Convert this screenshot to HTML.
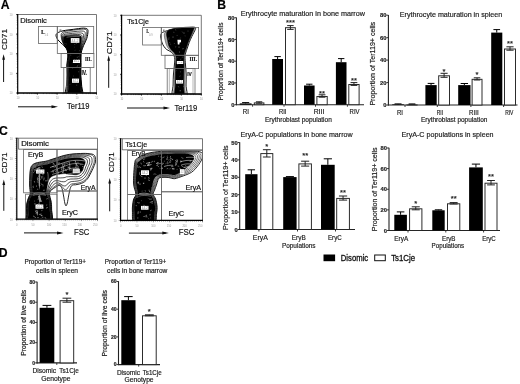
<!DOCTYPE html><html><head><meta charset="utf-8"><style>html,body{margin:0;padding:0;background:#fff;}svg{display:block;}</style></head><body>
<svg width="520" height="384" viewBox="0 0 520 384">
<rect width="520" height="384" fill="#fff"/>
<text x="0.70" y="8.50" font-size="12.2" font-family="'Liberation Sans', Arial, sans-serif" font-weight="bold" fill="#000" stroke="#000" stroke-width="0.18" text-anchor="start">A</text>
<text x="217.30" y="8.80" font-size="12.2" font-family="'Liberation Sans', Arial, sans-serif" font-weight="bold" fill="#000" stroke="#000" stroke-width="0.18" text-anchor="start">B</text>
<text x="-0.90" y="134.90" font-size="12.2" font-family="'Liberation Sans', Arial, sans-serif" font-weight="bold" fill="#000" stroke="#000" stroke-width="0.18" text-anchor="start">C</text>
<text x="-1.30" y="256.70" font-size="12.2" font-family="'Liberation Sans', Arial, sans-serif" font-weight="bold" fill="#000" stroke="#000" stroke-width="0.18" text-anchor="start">D</text>
<defs><clipPath id="cA1"><rect x="17.7" y="14.5" width="78.8" height="78.5"/></clipPath></defs>
<line x1="17.70" y1="14.50" x2="96.50" y2="14.50" stroke="#555" stroke-width="0.8"/>
<line x1="96.50" y1="14.50" x2="96.50" y2="93.00" stroke="#555" stroke-width="0.8"/>
<line x1="16.20" y1="93.00" x2="17.70" y2="93.00" stroke="#222" stroke-width="0.9"/>
<line x1="16.20" y1="73.38" x2="17.70" y2="73.38" stroke="#222" stroke-width="0.9"/>
<line x1="16.20" y1="53.75" x2="17.70" y2="53.75" stroke="#222" stroke-width="0.9"/>
<line x1="16.20" y1="34.12" x2="17.70" y2="34.12" stroke="#222" stroke-width="0.9"/>
<line x1="16.20" y1="14.50" x2="17.70" y2="14.50" stroke="#222" stroke-width="0.9"/>
<line x1="17.70" y1="93.00" x2="17.70" y2="94.60" stroke="#222" stroke-width="0.9"/>
<line x1="37.40" y1="93.00" x2="37.40" y2="94.60" stroke="#222" stroke-width="0.9"/>
<line x1="57.10" y1="93.00" x2="57.10" y2="94.60" stroke="#222" stroke-width="0.9"/>
<line x1="76.80" y1="93.00" x2="76.80" y2="94.60" stroke="#222" stroke-width="0.9"/>
<line x1="96.50" y1="93.00" x2="96.50" y2="94.60" stroke="#222" stroke-width="0.9"/>
<line x1="16.70" y1="93.00" x2="17.70" y2="93.00" stroke="#444" stroke-width="0.6"/>
<line x1="16.70" y1="87.09" x2="17.70" y2="87.09" stroke="#444" stroke-width="0.6"/>
<line x1="16.70" y1="83.64" x2="17.70" y2="83.64" stroke="#444" stroke-width="0.6"/>
<line x1="16.70" y1="81.18" x2="17.70" y2="81.18" stroke="#444" stroke-width="0.6"/>
<line x1="16.70" y1="79.28" x2="17.70" y2="79.28" stroke="#444" stroke-width="0.6"/>
<line x1="16.70" y1="77.73" x2="17.70" y2="77.73" stroke="#444" stroke-width="0.6"/>
<line x1="16.70" y1="76.41" x2="17.70" y2="76.41" stroke="#444" stroke-width="0.6"/>
<line x1="16.70" y1="75.28" x2="17.70" y2="75.28" stroke="#444" stroke-width="0.6"/>
<line x1="16.70" y1="74.27" x2="17.70" y2="74.27" stroke="#444" stroke-width="0.6"/>
<line x1="16.70" y1="73.38" x2="17.70" y2="73.38" stroke="#444" stroke-width="0.6"/>
<line x1="16.70" y1="67.47" x2="17.70" y2="67.47" stroke="#444" stroke-width="0.6"/>
<line x1="16.70" y1="64.01" x2="17.70" y2="64.01" stroke="#444" stroke-width="0.6"/>
<line x1="16.70" y1="61.56" x2="17.70" y2="61.56" stroke="#444" stroke-width="0.6"/>
<line x1="16.70" y1="59.66" x2="17.70" y2="59.66" stroke="#444" stroke-width="0.6"/>
<line x1="16.70" y1="58.10" x2="17.70" y2="58.10" stroke="#444" stroke-width="0.6"/>
<line x1="16.70" y1="56.79" x2="17.70" y2="56.79" stroke="#444" stroke-width="0.6"/>
<line x1="16.70" y1="55.65" x2="17.70" y2="55.65" stroke="#444" stroke-width="0.6"/>
<line x1="16.70" y1="54.65" x2="17.70" y2="54.65" stroke="#444" stroke-width="0.6"/>
<line x1="16.70" y1="53.75" x2="17.70" y2="53.75" stroke="#444" stroke-width="0.6"/>
<line x1="16.70" y1="47.84" x2="17.70" y2="47.84" stroke="#444" stroke-width="0.6"/>
<line x1="16.70" y1="44.39" x2="17.70" y2="44.39" stroke="#444" stroke-width="0.6"/>
<line x1="16.70" y1="41.93" x2="17.70" y2="41.93" stroke="#444" stroke-width="0.6"/>
<line x1="16.70" y1="40.03" x2="17.70" y2="40.03" stroke="#444" stroke-width="0.6"/>
<line x1="16.70" y1="38.48" x2="17.70" y2="38.48" stroke="#444" stroke-width="0.6"/>
<line x1="16.70" y1="37.16" x2="17.70" y2="37.16" stroke="#444" stroke-width="0.6"/>
<line x1="16.70" y1="36.03" x2="17.70" y2="36.03" stroke="#444" stroke-width="0.6"/>
<line x1="16.70" y1="35.02" x2="17.70" y2="35.02" stroke="#444" stroke-width="0.6"/>
<line x1="16.70" y1="34.12" x2="17.70" y2="34.12" stroke="#444" stroke-width="0.6"/>
<line x1="16.70" y1="28.22" x2="17.70" y2="28.22" stroke="#444" stroke-width="0.6"/>
<line x1="16.70" y1="24.76" x2="17.70" y2="24.76" stroke="#444" stroke-width="0.6"/>
<line x1="16.70" y1="22.31" x2="17.70" y2="22.31" stroke="#444" stroke-width="0.6"/>
<line x1="16.70" y1="20.41" x2="17.70" y2="20.41" stroke="#444" stroke-width="0.6"/>
<line x1="16.70" y1="18.85" x2="17.70" y2="18.85" stroke="#444" stroke-width="0.6"/>
<line x1="16.70" y1="17.54" x2="17.70" y2="17.54" stroke="#444" stroke-width="0.6"/>
<line x1="16.70" y1="16.40" x2="17.70" y2="16.40" stroke="#444" stroke-width="0.6"/>
<line x1="16.70" y1="15.40" x2="17.70" y2="15.40" stroke="#444" stroke-width="0.6"/>
<line x1="16.70" y1="14.50" x2="17.70" y2="14.50" stroke="#444" stroke-width="0.6"/>
<line x1="17.70" y1="93.00" x2="17.70" y2="94.10" stroke="#444" stroke-width="0.6"/>
<line x1="23.63" y1="93.00" x2="23.63" y2="94.10" stroke="#444" stroke-width="0.6"/>
<line x1="27.10" y1="93.00" x2="27.10" y2="94.10" stroke="#444" stroke-width="0.6"/>
<line x1="29.56" y1="93.00" x2="29.56" y2="94.10" stroke="#444" stroke-width="0.6"/>
<line x1="31.47" y1="93.00" x2="31.47" y2="94.10" stroke="#444" stroke-width="0.6"/>
<line x1="33.03" y1="93.00" x2="33.03" y2="94.10" stroke="#444" stroke-width="0.6"/>
<line x1="34.35" y1="93.00" x2="34.35" y2="94.10" stroke="#444" stroke-width="0.6"/>
<line x1="35.49" y1="93.00" x2="35.49" y2="94.10" stroke="#444" stroke-width="0.6"/>
<line x1="36.50" y1="93.00" x2="36.50" y2="94.10" stroke="#444" stroke-width="0.6"/>
<line x1="37.40" y1="93.00" x2="37.40" y2="94.10" stroke="#444" stroke-width="0.6"/>
<line x1="43.33" y1="93.00" x2="43.33" y2="94.10" stroke="#444" stroke-width="0.6"/>
<line x1="46.80" y1="93.00" x2="46.80" y2="94.10" stroke="#444" stroke-width="0.6"/>
<line x1="49.26" y1="93.00" x2="49.26" y2="94.10" stroke="#444" stroke-width="0.6"/>
<line x1="51.17" y1="93.00" x2="51.17" y2="94.10" stroke="#444" stroke-width="0.6"/>
<line x1="52.73" y1="93.00" x2="52.73" y2="94.10" stroke="#444" stroke-width="0.6"/>
<line x1="54.05" y1="93.00" x2="54.05" y2="94.10" stroke="#444" stroke-width="0.6"/>
<line x1="55.19" y1="93.00" x2="55.19" y2="94.10" stroke="#444" stroke-width="0.6"/>
<line x1="56.20" y1="93.00" x2="56.20" y2="94.10" stroke="#444" stroke-width="0.6"/>
<line x1="57.10" y1="93.00" x2="57.10" y2="94.10" stroke="#444" stroke-width="0.6"/>
<line x1="63.03" y1="93.00" x2="63.03" y2="94.10" stroke="#444" stroke-width="0.6"/>
<line x1="66.50" y1="93.00" x2="66.50" y2="94.10" stroke="#444" stroke-width="0.6"/>
<line x1="68.96" y1="93.00" x2="68.96" y2="94.10" stroke="#444" stroke-width="0.6"/>
<line x1="70.87" y1="93.00" x2="70.87" y2="94.10" stroke="#444" stroke-width="0.6"/>
<line x1="72.43" y1="93.00" x2="72.43" y2="94.10" stroke="#444" stroke-width="0.6"/>
<line x1="73.75" y1="93.00" x2="73.75" y2="94.10" stroke="#444" stroke-width="0.6"/>
<line x1="74.89" y1="93.00" x2="74.89" y2="94.10" stroke="#444" stroke-width="0.6"/>
<line x1="75.90" y1="93.00" x2="75.90" y2="94.10" stroke="#444" stroke-width="0.6"/>
<line x1="76.80" y1="93.00" x2="76.80" y2="94.10" stroke="#444" stroke-width="0.6"/>
<line x1="82.73" y1="93.00" x2="82.73" y2="94.10" stroke="#444" stroke-width="0.6"/>
<line x1="86.20" y1="93.00" x2="86.20" y2="94.10" stroke="#444" stroke-width="0.6"/>
<line x1="88.66" y1="93.00" x2="88.66" y2="94.10" stroke="#444" stroke-width="0.6"/>
<line x1="90.57" y1="93.00" x2="90.57" y2="94.10" stroke="#444" stroke-width="0.6"/>
<line x1="92.13" y1="93.00" x2="92.13" y2="94.10" stroke="#444" stroke-width="0.6"/>
<line x1="93.45" y1="93.00" x2="93.45" y2="94.10" stroke="#444" stroke-width="0.6"/>
<line x1="94.59" y1="93.00" x2="94.59" y2="94.10" stroke="#444" stroke-width="0.6"/>
<line x1="95.60" y1="93.00" x2="95.60" y2="94.10" stroke="#444" stroke-width="0.6"/>
<line x1="96.50" y1="93.00" x2="96.50" y2="94.10" stroke="#444" stroke-width="0.6"/>
<text x="9.60" y="94.40" font-size="2.6" font-family="'Liberation Sans', Arial, sans-serif" fill="#999">10</text>
<text x="9.60" y="74.78" font-size="2.6" font-family="'Liberation Sans', Arial, sans-serif" fill="#999">10</text>
<text x="9.60" y="55.15" font-size="2.6" font-family="'Liberation Sans', Arial, sans-serif" fill="#999">10</text>
<text x="9.60" y="35.52" font-size="2.6" font-family="'Liberation Sans', Arial, sans-serif" fill="#999">10</text>
<text x="9.60" y="15.90" font-size="2.6" font-family="'Liberation Sans', Arial, sans-serif" fill="#999">10</text>
<text x="16.50" y="98.60" font-size="2.6" font-family="'Liberation Sans', Arial, sans-serif" fill="#999">10</text>
<text x="36.20" y="98.60" font-size="2.6" font-family="'Liberation Sans', Arial, sans-serif" fill="#999">10</text>
<text x="55.90" y="98.60" font-size="2.6" font-family="'Liberation Sans', Arial, sans-serif" fill="#999">10</text>
<text x="75.60" y="98.60" font-size="2.6" font-family="'Liberation Sans', Arial, sans-serif" fill="#999">10</text>
<text x="95.30" y="98.60" font-size="2.6" font-family="'Liberation Sans', Arial, sans-serif" fill="#999">10</text>
<text x="20.20" y="22.70" font-size="6.6" font-family="'Liberation Sans', Arial, sans-serif" fill="#111" stroke="#111" stroke-width="0.18" text-anchor="start" textLength="26.70" lengthAdjust="spacingAndGlyphs">Disomic</text>
<g clip-path="url(#cA1)">
<path d="M56.00 35.20 C56.05 33.98 57.03 33.23 58.20 32.50 C59.37 31.77 61.37 31.22 63.00 30.80 C64.63 30.38 66.25 30.25 68.00 30.00 C69.75 29.75 71.75 29.53 73.50 29.30 C75.25 29.07 76.80 28.80 78.50 28.60 C80.20 28.40 82.25 28.03 83.70 28.10 C85.15 28.17 86.48 28.43 87.20 29.00 C87.92 29.57 88.07 29.95 88.00 31.50 C87.93 33.05 87.52 36.00 86.80 38.30 C86.08 40.60 84.55 43.22 83.70 45.30 C82.85 47.38 82.15 49.02 81.70 50.80 C81.25 52.58 81.12 53.63 81.00 56.00 C80.88 58.37 81.03 61.83 81.00 65.00 C80.97 68.17 80.70 71.67 80.80 75.00 C80.90 78.33 81.43 81.33 81.60 85.00 C81.77 88.67 84.35 95.00 81.80 97.00 C79.25 99.00 68.85 99.00 66.30 97.00 C63.75 95.00 66.38 88.67 66.50 85.00 C66.62 81.33 66.95 78.33 67.00 75.00 C67.05 71.67 66.67 68.00 66.80 65.00 C66.93 62.00 67.78 59.58 67.80 57.00 C67.82 54.42 67.77 51.58 66.90 49.50 C66.03 47.42 64.10 46.12 62.60 44.50 C61.10 42.88 59.00 41.35 57.90 39.80 C56.80 38.25 55.95 36.42 56.00 35.20 Z" fill="#fff" stroke="#000" stroke-width="1.0"/>
<path d="M61.20 36.00 C61.13 34.82 61.10 34.13 61.60 33.40 C62.10 32.67 63.05 32.03 64.20 31.60 C65.35 31.17 66.95 31.05 68.50 30.80 C70.05 30.55 71.83 30.32 73.50 30.10 C75.17 29.88 76.85 29.67 78.50 29.50 C80.15 29.33 82.10 29.05 83.40 29.10 C84.70 29.15 85.72 29.33 86.30 29.80 C86.88 30.27 86.98 30.48 86.90 31.90 C86.82 33.32 86.47 36.07 85.80 38.30 C85.13 40.53 83.67 43.22 82.90 45.30 C82.13 47.38 81.57 49.02 81.20 50.80 C80.83 52.58 80.80 53.63 80.70 56.00 C80.60 58.37 80.65 61.83 80.60 65.00 C80.55 68.17 80.30 71.67 80.40 75.00 C80.50 78.33 81.03 81.33 81.20 85.00 C81.37 88.67 83.80 95.00 81.40 97.00 C79.00 99.00 69.20 99.00 66.80 97.00 C64.40 95.00 66.88 88.67 67.00 85.00 C67.12 81.33 67.45 78.33 67.50 75.00 C67.55 71.67 67.18 68.00 67.30 65.00 C67.42 62.00 68.18 59.50 68.20 57.00 C68.22 54.50 68.10 52.00 67.40 50.00 C66.70 48.00 64.90 46.58 64.00 45.00 C63.10 43.42 62.47 42.00 62.00 40.50 C61.53 39.00 61.27 37.18 61.20 36.00 Z" fill="none" stroke="#000" stroke-width="0.7"/>
<path d="M61.86 36.72 C61.81 35.62 61.82 35.02 62.29 34.39 C62.76 33.76 63.62 33.27 64.68 32.92 C65.74 32.57 67.26 32.47 68.65 32.27 C70.05 32.07 71.56 31.89 73.05 31.72 C74.54 31.55 76.12 31.39 77.60 31.27 C79.08 31.15 80.77 30.95 81.93 31.02 C83.10 31.09 84.04 31.22 84.59 31.66 C85.14 32.10 85.27 32.45 85.25 33.64 C85.23 34.83 84.95 36.88 84.45 38.81 C83.95 40.74 82.86 43.25 82.27 45.21 C81.68 47.17 81.24 48.76 80.93 50.56 C80.62 52.36 80.53 53.59 80.43 56.00 C80.34 58.41 80.41 61.83 80.36 65.00 C80.31 68.17 80.07 71.67 80.16 75.00 C80.25 78.33 80.75 81.33 80.90 85.00 C81.05 88.67 83.33 95.00 81.07 97.00 C78.82 99.00 69.63 99.00 67.37 97.00 C65.11 95.00 67.41 88.67 67.51 85.00 C67.61 81.33 67.94 78.33 67.98 75.00 C68.03 71.67 67.69 68.00 67.78 65.00 C67.87 62.00 68.54 59.42 68.53 57.00 C68.52 54.58 68.37 52.38 67.70 50.45 C67.03 48.53 65.39 47.02 64.54 45.45 C63.68 43.88 63.02 42.46 62.57 41.01 C62.12 39.55 61.91 37.82 61.86 36.72 Z" fill="none" stroke="#000" stroke-width="0.7"/>
<path d="M62.52 37.44 C62.49 36.42 62.54 35.91 62.98 35.38 C63.42 34.85 64.19 34.51 65.16 34.24 C66.13 33.97 67.56 33.89 68.80 33.74 C70.04 33.59 71.28 33.46 72.60 33.34 C73.92 33.22 75.39 33.11 76.70 33.04 C78.01 32.97 79.43 32.86 80.46 32.94 C81.49 33.02 82.36 33.11 82.88 33.52 C83.40 33.93 83.56 34.41 83.60 35.38 C83.64 36.35 83.43 37.70 83.10 39.32 C82.77 40.94 82.05 43.29 81.64 45.12 C81.23 46.95 80.91 48.51 80.66 50.32 C80.41 52.13 80.25 53.55 80.16 56.00 C80.07 58.45 80.16 61.83 80.12 65.00 C80.08 68.17 79.84 71.67 79.92 75.00 C80.00 78.33 80.46 81.33 80.60 85.00 C80.74 88.67 82.85 95.00 80.74 97.00 C78.63 99.00 70.06 99.00 67.94 97.00 C65.82 95.00 67.93 88.67 68.02 85.00 C68.11 81.33 68.42 78.33 68.46 75.00 C68.50 71.67 68.19 68.00 68.26 65.00 C68.33 62.00 68.90 59.35 68.86 57.00 C68.82 54.65 68.63 52.75 68.00 50.90 C67.37 49.05 65.89 47.46 65.08 45.90 C64.27 44.34 63.57 42.93 63.14 41.52 C62.71 40.11 62.55 38.46 62.52 37.44 Z" fill="none" stroke="#000" stroke-width="0.7"/>
<path d="M63.07 38.04 C63.06 37.08 63.14 36.66 63.55 36.21 C63.97 35.76 64.67 35.55 65.56 35.34 C66.45 35.13 67.81 35.07 68.92 34.97 C70.04 34.86 71.05 34.77 72.22 34.69 C73.40 34.61 74.78 34.54 75.95 34.52 C77.12 34.49 78.32 34.45 79.23 34.54 C80.15 34.63 80.96 34.69 81.45 35.07 C81.95 35.45 82.14 36.05 82.23 36.83 C82.31 37.61 82.16 38.38 81.97 39.74 C81.79 41.11 81.37 43.32 81.11 45.05 C80.86 46.77 80.63 48.29 80.44 50.12 C80.24 51.95 80.02 53.52 79.94 56.00 C79.85 58.48 79.96 61.83 79.92 65.00 C79.88 68.17 79.65 71.67 79.72 75.00 C79.79 78.33 80.23 81.33 80.35 85.00 C80.47 88.67 82.45 95.00 80.47 97.00 C78.48 99.00 70.42 99.00 68.42 97.00 C66.41 95.00 68.37 88.67 68.45 85.00 C68.52 81.33 68.82 78.33 68.86 75.00 C68.90 71.67 68.61 68.00 68.66 65.00 C68.71 62.00 69.20 59.29 69.13 57.00 C69.07 54.71 68.85 53.06 68.25 51.27 C67.65 49.49 66.30 47.83 65.53 46.27 C64.76 44.72 64.03 43.32 63.62 41.95 C63.20 40.57 63.08 39.00 63.07 38.04 Z" fill="none" stroke="#000" stroke-width="0.7"/>
<path d="M63.40 38.40 C63.40 37.48 63.50 37.10 63.90 36.70 C64.30 36.30 64.95 36.17 65.80 36.00 C66.65 35.83 67.97 35.78 69.00 35.70 C70.03 35.62 70.92 35.55 72.00 35.50 C73.08 35.45 74.42 35.40 75.50 35.40 C76.58 35.40 77.65 35.40 78.50 35.50 C79.35 35.60 80.12 35.63 80.60 36.00 C81.08 36.37 81.28 37.03 81.40 37.70 C81.52 38.37 81.40 38.78 81.30 40.00 C81.20 41.22 80.97 43.33 80.80 45.00 C80.63 46.67 80.47 48.17 80.30 50.00 C80.13 51.83 79.88 53.50 79.80 56.00 C79.72 58.50 79.83 61.83 79.80 65.00 C79.77 68.17 79.53 71.67 79.60 75.00 C79.67 78.33 80.08 81.33 80.20 85.00 C80.32 88.67 82.22 95.00 80.30 97.00 C78.38 99.00 70.63 99.00 68.70 97.00 C66.77 95.00 68.63 88.67 68.70 85.00 C68.77 81.33 69.07 78.33 69.10 75.00 C69.13 71.67 68.87 68.00 68.90 65.00 C68.93 62.00 69.38 59.25 69.30 57.00 C69.22 54.75 68.98 53.25 68.40 51.50 C67.82 49.75 66.55 48.05 65.80 46.50 C65.05 44.95 64.30 43.55 63.90 42.20 C63.50 40.85 63.40 39.32 63.40 38.40 Z" fill="#000" stroke="#000" stroke-width="0.5"/>
</g>
<defs><clipPath id="tA1"><path d="M63.40 38.40 C63.40 37.48 63.50 37.10 63.90 36.70 C64.30 36.30 64.95 36.17 65.80 36.00 C66.65 35.83 67.97 35.78 69.00 35.70 C70.03 35.62 70.92 35.55 72.00 35.50 C73.08 35.45 74.42 35.40 75.50 35.40 C76.58 35.40 77.65 35.40 78.50 35.50 C79.35 35.60 80.12 35.63 80.60 36.00 C81.08 36.37 81.28 37.03 81.40 37.70 C81.52 38.37 81.40 38.78 81.30 40.00 C81.20 41.22 80.97 43.33 80.80 45.00 C80.63 46.67 80.47 48.17 80.30 50.00 C80.13 51.83 79.88 53.50 79.80 56.00 C79.72 58.50 79.83 61.83 79.80 65.00 C79.77 68.17 79.53 71.67 79.60 75.00 C79.67 78.33 80.08 81.33 80.20 85.00 C80.32 88.67 82.22 95.00 80.30 97.00 C78.38 99.00 70.63 99.00 68.70 97.00 C66.77 95.00 68.63 88.67 68.70 85.00 C68.77 81.33 69.07 78.33 69.10 75.00 C69.13 71.67 68.87 68.00 68.90 65.00 C68.93 62.00 69.38 59.25 69.30 57.00 C69.22 54.75 68.98 53.25 68.40 51.50 C67.82 49.75 66.55 48.05 65.80 46.50 C65.05 44.95 64.30 43.55 63.90 42.20 C63.50 40.85 63.40 39.32 63.40 38.40 Z"/></clipPath></defs>
<g clip-path="url(#tA1)" stroke="#999" stroke-width="0.4" fill="none" opacity="0.9">
<path d="M77.16 84.42 Q76.20 84.91 76.75 85.50"/>
<path d="M74.73 50.51 Q75.14 50.46 75.40 50.18"/>
<path d="M75.97 43.12 Q76.61 42.79 76.41 43.83"/>
<path d="M70.39 55.07 Q71.49 55.82 71.05 55.38"/>
<path d="M72.45 62.36 Q73.10 62.21 72.25 63.04"/>
<path d="M72.29 68.36 Q72.26 68.40 72.88 68.11"/>
<path d="M73.94 47.62 Q74.59 46.92 74.62 47.23"/>
<path d="M76.75 57.11 Q77.75 56.62 77.64 57.68"/>
<path d="M73.03 76.41 Q74.05 75.72 73.62 76.01"/>
<path d="M78.94 51.13 Q79.84 50.42 79.84 50.96"/>
<path d="M78.46 56.36 Q78.98 57.23 79.15 56.77"/>
<path d="M72.03 81.00 Q72.75 81.51 72.51 81.62"/>
<path d="M79.96 60.98 Q80.11 60.90 80.57 61.67"/>
<path d="M78.09 71.86 Q77.91 71.80 79.23 71.75"/>
<path d="M66.96 47.97 Q66.14 48.37 66.57 48.98"/>
<path d="M65.88 43.31 Q65.63 43.75 66.43 44.11"/>
<path d="M76.58 66.75 Q76.51 67.12 77.68 66.45"/>
<path d="M74.40 44.49 Q75.23 45.00 75.15 44.34"/>
<path d="M69.69 84.42 Q69.69 84.46 70.31 84.31"/>
<path d="M78.19 64.80 Q77.70 64.82 77.72 65.88"/>
</g>
<path d="M66.5 37.2 C70 36.6 75 36.3 79.8 36.6" fill="none" stroke="#fff" stroke-width="0.35"/>
<rect x="38.50" y="26.40" width="18.80" height="17.10" fill="none" stroke="#666" stroke-width="0.8"/>
<rect x="57.30" y="26.40" width="36.40" height="27.10" fill="none" stroke="#666" stroke-width="0.8"/>
<rect x="61.10" y="53.50" width="32.80" height="14.10" fill="none" stroke="#666" stroke-width="0.8"/>
<rect x="63.80" y="67.60" width="26.40" height="25.40" fill="none" stroke="#666" stroke-width="0.8"/>
<line x1="66.70" y1="67.60" x2="66.70" y2="93.00" stroke="#999" stroke-width="0.6"/>
<rect x="70.80" y="38.10" width="8.60" height="4.70" fill="#fff" stroke="none" stroke-width="1"/>
<text x="71.60" y="41.80" font-size="2.60" font-family="'Liberation Sans', Arial, sans-serif" fill="#888" textLength="7.00" lengthAdjust="spacingAndGlyphs">44.2</text>
<rect x="73.00" y="59.80" width="7.00" height="3.20" fill="#fff" stroke="none" stroke-width="1"/>
<text x="73.80" y="62.00" font-size="2.56" font-family="'Liberation Sans', Arial, sans-serif" fill="#888" textLength="5.40" lengthAdjust="spacingAndGlyphs">44.2</text>
<rect x="72.00" y="78.60" width="7.00" height="4.20" fill="#fff" stroke="none" stroke-width="1"/>
<text x="72.80" y="81.80" font-size="2.60" font-family="'Liberation Sans', Arial, sans-serif" fill="#888" textLength="5.40" lengthAdjust="spacingAndGlyphs">44.2</text>
<text x="41.00" y="34.00" font-size="5.8" font-family="'Liberation Serif', serif" font-weight="bold" fill="#111" stroke="#111" stroke-width="0.18" text-anchor="start">I.</text>
<text x="44.60" y="35.60" font-size="2.6" font-family="'Liberation Sans', Arial, sans-serif" fill="#999">1.6</text>
<rect x="59.50" y="29.30" width="1.90" height="2.30" fill="#888" stroke="none" stroke-width="1"/>
<text x="85.00" y="61.00" font-size="6.0" font-family="'Liberation Serif', serif" font-weight="bold" fill="#111" stroke="#111" stroke-width="0.18" text-anchor="start" textLength="6.60" lengthAdjust="spacingAndGlyphs">III.</text>
<text x="81.40" y="75.20" font-size="6.4" font-family="'Liberation Sans', Arial, sans-serif" font-weight="bold" fill="#111" stroke="#111" stroke-width="0.18" text-anchor="start" textLength="5.60" lengthAdjust="spacingAndGlyphs">IV.</text>
<line x1="17.70" y1="14.00" x2="17.70" y2="93.60" stroke="#000" stroke-width="1.2"/>
<line x1="17.10" y1="93.00" x2="96.90" y2="93.00" stroke="#000" stroke-width="1.3"/>
<text x="6.70" y="50.00" font-size="7.8" font-family="'Liberation Sans', Arial, sans-serif" fill="#111" stroke="#111" stroke-width="0.15" text-anchor="start" textLength="21.00" lengthAdjust="spacingAndGlyphs" transform="rotate(-90 6.70 50.00)">CD71</text>
<line x1="3.60" y1="82.00" x2="3.60" y2="57.20" stroke="#111" stroke-width="1.0"/>
<path d="M2.20 59.70 L3.60 54.20 L5.00 59.70 Z" fill="#111" stroke="none" stroke-width="1"/>
<text x="67.00" y="109.00" font-size="8.6" font-family="'Liberation Sans', Arial, sans-serif" fill="#111" stroke="#111" stroke-width="0.15" text-anchor="start" textLength="22.50" lengthAdjust="spacingAndGlyphs">Ter119</text>
<line x1="18.00" y1="106.80" x2="55.00" y2="106.80" stroke="#111" stroke-width="1.0"/>
<path d="M51.50 105.30 L58.00 106.80 L51.50 108.30 Z" fill="#111" stroke="none" stroke-width="1"/>
<defs><clipPath id="cA2"><rect x="121.6" y="15.3" width="79.70000000000002" height="78.7"/></clipPath></defs>
<line x1="121.60" y1="15.30" x2="201.30" y2="15.30" stroke="#555" stroke-width="0.8"/>
<line x1="201.30" y1="15.30" x2="201.30" y2="94.00" stroke="#555" stroke-width="0.8"/>
<line x1="120.10" y1="94.00" x2="121.60" y2="94.00" stroke="#222" stroke-width="0.9"/>
<line x1="120.10" y1="74.33" x2="121.60" y2="74.33" stroke="#222" stroke-width="0.9"/>
<line x1="120.10" y1="54.65" x2="121.60" y2="54.65" stroke="#222" stroke-width="0.9"/>
<line x1="120.10" y1="34.97" x2="121.60" y2="34.97" stroke="#222" stroke-width="0.9"/>
<line x1="120.10" y1="15.30" x2="121.60" y2="15.30" stroke="#222" stroke-width="0.9"/>
<line x1="121.60" y1="94.00" x2="121.60" y2="95.60" stroke="#222" stroke-width="0.9"/>
<line x1="141.53" y1="94.00" x2="141.53" y2="95.60" stroke="#222" stroke-width="0.9"/>
<line x1="161.45" y1="94.00" x2="161.45" y2="95.60" stroke="#222" stroke-width="0.9"/>
<line x1="181.38" y1="94.00" x2="181.38" y2="95.60" stroke="#222" stroke-width="0.9"/>
<line x1="201.30" y1="94.00" x2="201.30" y2="95.60" stroke="#222" stroke-width="0.9"/>
<line x1="120.60" y1="94.00" x2="121.60" y2="94.00" stroke="#444" stroke-width="0.6"/>
<line x1="120.60" y1="88.08" x2="121.60" y2="88.08" stroke="#444" stroke-width="0.6"/>
<line x1="120.60" y1="84.61" x2="121.60" y2="84.61" stroke="#444" stroke-width="0.6"/>
<line x1="120.60" y1="82.15" x2="121.60" y2="82.15" stroke="#444" stroke-width="0.6"/>
<line x1="120.60" y1="80.25" x2="121.60" y2="80.25" stroke="#444" stroke-width="0.6"/>
<line x1="120.60" y1="78.69" x2="121.60" y2="78.69" stroke="#444" stroke-width="0.6"/>
<line x1="120.60" y1="77.37" x2="121.60" y2="77.37" stroke="#444" stroke-width="0.6"/>
<line x1="120.60" y1="76.23" x2="121.60" y2="76.23" stroke="#444" stroke-width="0.6"/>
<line x1="120.60" y1="75.23" x2="121.60" y2="75.23" stroke="#444" stroke-width="0.6"/>
<line x1="120.60" y1="74.33" x2="121.60" y2="74.33" stroke="#444" stroke-width="0.6"/>
<line x1="120.60" y1="68.40" x2="121.60" y2="68.40" stroke="#444" stroke-width="0.6"/>
<line x1="120.60" y1="64.94" x2="121.60" y2="64.94" stroke="#444" stroke-width="0.6"/>
<line x1="120.60" y1="62.48" x2="121.60" y2="62.48" stroke="#444" stroke-width="0.6"/>
<line x1="120.60" y1="60.57" x2="121.60" y2="60.57" stroke="#444" stroke-width="0.6"/>
<line x1="120.60" y1="59.01" x2="121.60" y2="59.01" stroke="#444" stroke-width="0.6"/>
<line x1="120.60" y1="57.70" x2="121.60" y2="57.70" stroke="#444" stroke-width="0.6"/>
<line x1="120.60" y1="56.56" x2="121.60" y2="56.56" stroke="#444" stroke-width="0.6"/>
<line x1="120.60" y1="55.55" x2="121.60" y2="55.55" stroke="#444" stroke-width="0.6"/>
<line x1="120.60" y1="54.65" x2="121.60" y2="54.65" stroke="#444" stroke-width="0.6"/>
<line x1="120.60" y1="48.73" x2="121.60" y2="48.73" stroke="#444" stroke-width="0.6"/>
<line x1="120.60" y1="45.26" x2="121.60" y2="45.26" stroke="#444" stroke-width="0.6"/>
<line x1="120.60" y1="42.80" x2="121.60" y2="42.80" stroke="#444" stroke-width="0.6"/>
<line x1="120.60" y1="40.90" x2="121.60" y2="40.90" stroke="#444" stroke-width="0.6"/>
<line x1="120.60" y1="39.34" x2="121.60" y2="39.34" stroke="#444" stroke-width="0.6"/>
<line x1="120.60" y1="38.02" x2="121.60" y2="38.02" stroke="#444" stroke-width="0.6"/>
<line x1="120.60" y1="36.88" x2="121.60" y2="36.88" stroke="#444" stroke-width="0.6"/>
<line x1="120.60" y1="35.88" x2="121.60" y2="35.88" stroke="#444" stroke-width="0.6"/>
<line x1="120.60" y1="34.97" x2="121.60" y2="34.97" stroke="#444" stroke-width="0.6"/>
<line x1="120.60" y1="29.05" x2="121.60" y2="29.05" stroke="#444" stroke-width="0.6"/>
<line x1="120.60" y1="25.59" x2="121.60" y2="25.59" stroke="#444" stroke-width="0.6"/>
<line x1="120.60" y1="23.13" x2="121.60" y2="23.13" stroke="#444" stroke-width="0.6"/>
<line x1="120.60" y1="21.22" x2="121.60" y2="21.22" stroke="#444" stroke-width="0.6"/>
<line x1="120.60" y1="19.66" x2="121.60" y2="19.66" stroke="#444" stroke-width="0.6"/>
<line x1="120.60" y1="18.35" x2="121.60" y2="18.35" stroke="#444" stroke-width="0.6"/>
<line x1="120.60" y1="17.21" x2="121.60" y2="17.21" stroke="#444" stroke-width="0.6"/>
<line x1="120.60" y1="16.20" x2="121.60" y2="16.20" stroke="#444" stroke-width="0.6"/>
<line x1="120.60" y1="15.30" x2="121.60" y2="15.30" stroke="#444" stroke-width="0.6"/>
<line x1="121.60" y1="94.00" x2="121.60" y2="95.10" stroke="#444" stroke-width="0.6"/>
<line x1="127.60" y1="94.00" x2="127.60" y2="95.10" stroke="#444" stroke-width="0.6"/>
<line x1="131.11" y1="94.00" x2="131.11" y2="95.10" stroke="#444" stroke-width="0.6"/>
<line x1="133.60" y1="94.00" x2="133.60" y2="95.10" stroke="#444" stroke-width="0.6"/>
<line x1="135.53" y1="94.00" x2="135.53" y2="95.10" stroke="#444" stroke-width="0.6"/>
<line x1="137.10" y1="94.00" x2="137.10" y2="95.10" stroke="#444" stroke-width="0.6"/>
<line x1="138.44" y1="94.00" x2="138.44" y2="95.10" stroke="#444" stroke-width="0.6"/>
<line x1="139.59" y1="94.00" x2="139.59" y2="95.10" stroke="#444" stroke-width="0.6"/>
<line x1="140.61" y1="94.00" x2="140.61" y2="95.10" stroke="#444" stroke-width="0.6"/>
<line x1="141.53" y1="94.00" x2="141.53" y2="95.10" stroke="#444" stroke-width="0.6"/>
<line x1="147.52" y1="94.00" x2="147.52" y2="95.10" stroke="#444" stroke-width="0.6"/>
<line x1="151.03" y1="94.00" x2="151.03" y2="95.10" stroke="#444" stroke-width="0.6"/>
<line x1="153.52" y1="94.00" x2="153.52" y2="95.10" stroke="#444" stroke-width="0.6"/>
<line x1="155.45" y1="94.00" x2="155.45" y2="95.10" stroke="#444" stroke-width="0.6"/>
<line x1="157.03" y1="94.00" x2="157.03" y2="95.10" stroke="#444" stroke-width="0.6"/>
<line x1="158.36" y1="94.00" x2="158.36" y2="95.10" stroke="#444" stroke-width="0.6"/>
<line x1="159.52" y1="94.00" x2="159.52" y2="95.10" stroke="#444" stroke-width="0.6"/>
<line x1="160.54" y1="94.00" x2="160.54" y2="95.10" stroke="#444" stroke-width="0.6"/>
<line x1="161.45" y1="94.00" x2="161.45" y2="95.10" stroke="#444" stroke-width="0.6"/>
<line x1="167.45" y1="94.00" x2="167.45" y2="95.10" stroke="#444" stroke-width="0.6"/>
<line x1="170.96" y1="94.00" x2="170.96" y2="95.10" stroke="#444" stroke-width="0.6"/>
<line x1="173.45" y1="94.00" x2="173.45" y2="95.10" stroke="#444" stroke-width="0.6"/>
<line x1="175.38" y1="94.00" x2="175.38" y2="95.10" stroke="#444" stroke-width="0.6"/>
<line x1="176.95" y1="94.00" x2="176.95" y2="95.10" stroke="#444" stroke-width="0.6"/>
<line x1="178.29" y1="94.00" x2="178.29" y2="95.10" stroke="#444" stroke-width="0.6"/>
<line x1="179.44" y1="94.00" x2="179.44" y2="95.10" stroke="#444" stroke-width="0.6"/>
<line x1="180.46" y1="94.00" x2="180.46" y2="95.10" stroke="#444" stroke-width="0.6"/>
<line x1="181.38" y1="94.00" x2="181.38" y2="95.10" stroke="#444" stroke-width="0.6"/>
<line x1="187.37" y1="94.00" x2="187.37" y2="95.10" stroke="#444" stroke-width="0.6"/>
<line x1="190.88" y1="94.00" x2="190.88" y2="95.10" stroke="#444" stroke-width="0.6"/>
<line x1="193.37" y1="94.00" x2="193.37" y2="95.10" stroke="#444" stroke-width="0.6"/>
<line x1="195.30" y1="94.00" x2="195.30" y2="95.10" stroke="#444" stroke-width="0.6"/>
<line x1="196.88" y1="94.00" x2="196.88" y2="95.10" stroke="#444" stroke-width="0.6"/>
<line x1="198.21" y1="94.00" x2="198.21" y2="95.10" stroke="#444" stroke-width="0.6"/>
<line x1="199.37" y1="94.00" x2="199.37" y2="95.10" stroke="#444" stroke-width="0.6"/>
<line x1="200.39" y1="94.00" x2="200.39" y2="95.10" stroke="#444" stroke-width="0.6"/>
<line x1="201.30" y1="94.00" x2="201.30" y2="95.10" stroke="#444" stroke-width="0.6"/>
<text x="113.60" y="95.40" font-size="2.6" font-family="'Liberation Sans', Arial, sans-serif" fill="#999">10</text>
<text x="113.60" y="75.73" font-size="2.6" font-family="'Liberation Sans', Arial, sans-serif" fill="#999">10</text>
<text x="113.60" y="56.05" font-size="2.6" font-family="'Liberation Sans', Arial, sans-serif" fill="#999">10</text>
<text x="113.60" y="36.37" font-size="2.6" font-family="'Liberation Sans', Arial, sans-serif" fill="#999">10</text>
<text x="113.60" y="16.70" font-size="2.6" font-family="'Liberation Sans', Arial, sans-serif" fill="#999">10</text>
<text x="120.40" y="99.80" font-size="2.6" font-family="'Liberation Sans', Arial, sans-serif" fill="#999">10</text>
<text x="140.33" y="99.80" font-size="2.6" font-family="'Liberation Sans', Arial, sans-serif" fill="#999">10</text>
<text x="160.25" y="99.80" font-size="2.6" font-family="'Liberation Sans', Arial, sans-serif" fill="#999">10</text>
<text x="180.18" y="99.80" font-size="2.6" font-family="'Liberation Sans', Arial, sans-serif" fill="#999">10</text>
<text x="200.10" y="99.80" font-size="2.6" font-family="'Liberation Sans', Arial, sans-serif" fill="#999">10</text>
<text x="127.30" y="23.80" font-size="6.6" font-family="'Liberation Sans', Arial, sans-serif" fill="#111" stroke="#111" stroke-width="0.18" text-anchor="start" textLength="21.50" lengthAdjust="spacingAndGlyphs">Ts1Cje</text>
<g clip-path="url(#cA2)">
<path d="M160.70 35.50 C160.83 33.90 161.63 33.17 162.60 32.40 C163.57 31.63 165.18 31.33 166.50 30.90 C167.82 30.47 168.92 30.23 170.50 29.80 C172.08 29.37 174.08 28.67 176.00 28.30 C177.92 27.93 180.00 27.77 182.00 27.60 C184.00 27.43 185.87 27.35 188.00 27.30 C190.13 27.25 193.58 26.93 194.80 27.30 C196.02 27.67 195.80 27.97 195.30 29.50 C194.80 31.03 192.82 34.33 191.80 36.50 C190.78 38.67 189.95 40.58 189.20 42.50 C188.45 44.42 187.90 46.25 187.30 48.00 C186.70 49.75 185.98 51.50 185.60 53.00 C185.22 54.50 185.02 55.00 185.00 57.00 C184.98 59.00 185.30 62.00 185.50 65.00 C185.70 68.00 186.12 71.67 186.20 75.00 C186.28 78.33 186.00 81.33 186.00 85.00 C186.00 88.67 188.38 95.00 186.20 97.00 C184.02 99.00 175.08 99.00 172.90 97.00 C170.72 95.00 173.02 88.67 173.10 85.00 C173.18 81.33 173.18 78.33 173.40 75.00 C173.62 71.67 174.20 67.92 174.40 65.00 C174.60 62.08 175.07 59.62 174.60 57.50 C174.13 55.38 172.90 53.62 171.60 52.30 C170.30 50.98 168.10 50.62 166.80 49.60 C165.50 48.58 164.63 47.47 163.80 46.20 C162.97 44.93 162.32 43.78 161.80 42.00 C161.28 40.22 160.57 37.10 160.70 35.50 Z" fill="#fff" stroke="#000" stroke-width="0.9"/>
<path d="M164.24 35.20 C164.23 33.74 164.61 32.85 165.24 32.04 C165.87 31.23 166.92 30.81 168.00 30.36 C169.08 29.91 170.27 29.65 171.70 29.32 C173.13 28.99 174.88 28.61 176.60 28.36 C178.32 28.11 180.10 27.97 182.00 27.84 C183.90 27.71 185.99 27.65 188.00 27.60 C190.01 27.55 193.06 27.17 194.08 27.54 C195.10 27.91 194.60 28.31 194.10 29.80 C193.60 31.29 192.01 34.38 191.08 36.50 C190.15 38.62 189.26 40.63 188.54 42.50 C187.82 44.37 187.35 46.00 186.76 47.70 C186.17 49.40 185.40 51.20 185.00 52.70 C184.60 54.20 184.42 54.65 184.34 56.70 C184.26 58.75 184.47 61.95 184.54 65.00 C184.61 68.05 184.76 71.67 184.76 75.00 C184.76 78.33 184.57 81.33 184.56 85.00 C184.55 88.67 186.41 95.00 184.70 97.00 C182.99 99.00 175.99 99.00 174.28 97.00 C172.57 95.00 174.37 88.67 174.42 85.00 C174.47 81.33 174.47 78.33 174.60 75.00 C174.73 71.67 175.02 67.92 175.18 65.00 C175.34 62.08 175.90 59.57 175.56 57.50 C175.22 55.43 174.22 53.96 173.16 52.60 C172.10 51.24 170.28 50.53 169.20 49.36 C168.12 48.19 167.33 47.03 166.68 45.60 C166.03 44.17 165.69 42.53 165.28 40.80 C164.87 39.07 164.25 36.66 164.24 35.20 Z" fill="#aaa" stroke="#333" stroke-width="0.5"/>
<path d="M166.60 35.00 C166.50 33.63 166.60 32.63 167.00 31.80 C167.40 30.97 168.08 30.47 169.00 30.00 C169.92 29.53 171.17 29.27 172.50 29.00 C173.83 28.73 175.42 28.57 177.00 28.40 C178.58 28.23 180.17 28.10 182.00 28.00 C183.83 27.90 186.07 27.85 188.00 27.80 C189.93 27.75 192.72 27.33 193.60 27.70 C194.48 28.07 193.80 28.53 193.30 30.00 C192.80 31.47 191.47 34.42 190.60 36.50 C189.73 38.58 188.80 40.67 188.10 42.50 C187.40 44.33 186.98 45.83 186.40 47.50 C185.82 49.17 185.02 51.00 184.60 52.50 C184.18 54.00 184.02 54.42 183.90 56.50 C183.78 58.58 183.92 61.92 183.90 65.00 C183.88 68.08 183.85 71.67 183.80 75.00 C183.75 78.33 183.62 81.33 183.60 85.00 C183.58 88.67 185.10 95.00 183.70 97.00 C182.30 99.00 176.60 99.00 175.20 97.00 C173.80 95.00 175.27 88.67 175.30 85.00 C175.33 81.33 175.33 78.33 175.40 75.00 C175.47 71.67 175.57 67.92 175.70 65.00 C175.83 62.08 176.45 59.53 176.20 57.50 C175.95 55.47 175.10 54.18 174.20 52.80 C173.30 51.42 171.73 50.47 170.80 49.20 C169.87 47.93 169.13 46.73 168.60 45.20 C168.07 43.67 167.93 41.70 167.60 40.00 C167.27 38.30 166.70 36.37 166.60 35.00 Z" fill="#000" stroke="#000" stroke-width="0.5"/>
</g>
<defs><clipPath id="tA2"><path d="M166.60 35.00 C166.50 33.63 166.60 32.63 167.00 31.80 C167.40 30.97 168.08 30.47 169.00 30.00 C169.92 29.53 171.17 29.27 172.50 29.00 C173.83 28.73 175.42 28.57 177.00 28.40 C178.58 28.23 180.17 28.10 182.00 28.00 C183.83 27.90 186.07 27.85 188.00 27.80 C189.93 27.75 192.72 27.33 193.60 27.70 C194.48 28.07 193.80 28.53 193.30 30.00 C192.80 31.47 191.47 34.42 190.60 36.50 C189.73 38.58 188.80 40.67 188.10 42.50 C187.40 44.33 186.98 45.83 186.40 47.50 C185.82 49.17 185.02 51.00 184.60 52.50 C184.18 54.00 184.02 54.42 183.90 56.50 C183.78 58.58 183.92 61.92 183.90 65.00 C183.88 68.08 183.85 71.67 183.80 75.00 C183.75 78.33 183.62 81.33 183.60 85.00 C183.58 88.67 185.10 95.00 183.70 97.00 C182.30 99.00 176.60 99.00 175.20 97.00 C173.80 95.00 175.27 88.67 175.30 85.00 C175.33 81.33 175.33 78.33 175.40 75.00 C175.47 71.67 175.57 67.92 175.70 65.00 C175.83 62.08 176.45 59.53 176.20 57.50 C175.95 55.47 175.10 54.18 174.20 52.80 C173.30 51.42 171.73 50.47 170.80 49.20 C169.87 47.93 169.13 46.73 168.60 45.20 C168.07 43.67 167.93 41.70 167.60 40.00 C167.27 38.30 166.70 36.37 166.60 35.00 Z"/></clipPath></defs>
<g clip-path="url(#tA2)" stroke="#aaa" stroke-width="0.45" fill="none" opacity="0.9">
<path d="M182.22 31.74 Q182.81 32.62 183.06 32.19"/>
<path d="M177.33 64.14 Q177.75 64.67 178.25 64.76"/>
<path d="M173.57 32.18 Q174.28 31.79 174.10 32.48"/>
<path d="M175.23 29.65 Q176.30 30.21 176.16 30.09"/>
<path d="M178.55 86.24 Q178.04 86.20 178.82 87.33"/>
<path d="M174.19 43.11 Q174.66 43.65 174.05 43.95"/>
<path d="M180.26 90.26 Q181.02 91.09 180.21 91.38"/>
<path d="M184.77 35.85 Q185.35 36.08 185.43 35.89"/>
<path d="M177.56 57.47 Q177.96 57.65 177.40 58.11"/>
<path d="M168.48 37.97 Q169.38 37.73 169.44 37.87"/>
<path d="M179.96 90.95 Q179.47 90.24 180.56 90.79"/>
<path d="M190.77 49.40 Q192.03 49.02 191.76 49.15"/>
<path d="M183.63 89.97 Q184.31 90.06 184.53 89.84"/>
<path d="M182.88 48.75 Q182.98 48.44 183.92 48.76"/>
<path d="M179.69 76.39 Q179.32 76.31 180.48 75.86"/>
<path d="M169.44 42.17 Q169.86 42.95 169.61 42.97"/>
<path d="M182.15 49.05 Q182.23 48.95 182.97 48.52"/>
<path d="M176.73 35.57 Q176.92 35.94 177.51 35.44"/>
<path d="M191.31 43.36 Q191.39 42.87 192.21 42.93"/>
<path d="M180.85 58.78 Q180.43 59.78 180.90 59.79"/>
<path d="M169.92 44.58 Q170.74 43.71 170.64 44.33"/>
<path d="M175.56 46.56 Q176.12 46.30 175.63 47.36"/>
<path d="M180.31 71.43 Q180.59 71.53 180.44 72.30"/>
<path d="M175.32 71.12 Q176.03 70.94 176.35 70.73"/>
<path d="M168.78 38.59 Q168.77 39.80 168.62 39.76"/>
<path d="M188.59 49.39 Q189.36 49.27 189.15 49.12"/>
<path d="M189.52 47.89 Q189.51 47.62 190.56 47.99"/>
<path d="M180.60 37.69 Q180.06 38.64 180.32 38.44"/>
<path d="M182.30 57.39 Q182.23 56.79 183.37 57.02"/>
<path d="M183.30 86.44 Q184.33 85.90 184.20 86.81"/>
</g>
<path d="M177.4 39.7 L181 39.7 L181 42.2 L179.6 42.4 L179.4 44.4 L177.8 44.4 Z" fill="#fff" stroke="none" stroke-width="1"/>
<rect x="142.60" y="27.40" width="18.70" height="17.60" fill="none" stroke="#666" stroke-width="0.8"/>
<rect x="161.30" y="27.40" width="37.30" height="27.90" fill="none" stroke="#666" stroke-width="0.8"/>
<rect x="165.00" y="55.30" width="33.60" height="13.30" fill="none" stroke="#666" stroke-width="0.8"/>
<rect x="167.20" y="68.60" width="27.80" height="25.40" fill="none" stroke="#666" stroke-width="0.8"/>
<line x1="169.30" y1="68.60" x2="169.30" y2="94.00" stroke="#888" stroke-width="0.6"/>
<line x1="193.00" y1="68.60" x2="193.00" y2="94.00" stroke="#888" stroke-width="0.6"/>
<rect x="176.80" y="61.00" width="6.40" height="3.00" fill="#fff" stroke="none" stroke-width="1"/>
<text x="177.60" y="63.00" font-size="2.40" font-family="'Liberation Sans', Arial, sans-serif" fill="#888" textLength="4.80" lengthAdjust="spacingAndGlyphs">44.2</text>
<rect x="176.00" y="80.00" width="7.00" height="3.60" fill="#fff" stroke="none" stroke-width="1"/>
<text x="176.80" y="82.60" font-size="2.60" font-family="'Liberation Sans', Arial, sans-serif" fill="#888" textLength="5.40" lengthAdjust="spacingAndGlyphs">44.2</text>
<circle cx="184" cy="33" r="0.5" fill="#888"/><circle cx="173" cy="37" r="0.5" fill="#888"/><circle cx="188" cy="31" r="0.4" fill="#888"/><circle cx="179" cy="47" r="0.5" fill="#999"/><circle cx="179.5" cy="52" r="0.45" fill="#aaa"/>
<text x="146.30" y="33.20" font-size="5.2" font-family="'Liberation Serif', serif" fill="#111" stroke="#111" stroke-width="0.18" text-anchor="start">I.</text>
<text x="149.00" y="36.00" font-size="2.6" font-family="'Liberation Sans', Arial, sans-serif" fill="#999">0.9</text>
<rect x="163.00" y="29.50" width="1.60" height="2.20" fill="#888" stroke="none" stroke-width="1"/>
<text x="189.40" y="60.70" font-size="6.0" font-family="'Liberation Serif', serif" font-weight="bold" fill="#111" stroke="#111" stroke-width="0.18" text-anchor="start" textLength="7.60" lengthAdjust="spacingAndGlyphs">III.</text>
<text x="187.20" y="75.80" font-size="6.0" font-family="'Liberation Sans', Arial, sans-serif" font-weight="bold" fill="#111" stroke="#111" stroke-width="0.18" text-anchor="start" textLength="4.60" lengthAdjust="spacingAndGlyphs">IV</text>
<line x1="121.60" y1="14.80" x2="121.60" y2="94.60" stroke="#000" stroke-width="1.2"/>
<line x1="121.00" y1="94.00" x2="201.70" y2="94.00" stroke="#000" stroke-width="1.3"/>
<text x="111.90" y="54.20" font-size="7.8" font-family="'Liberation Sans', Arial, sans-serif" fill="#111" stroke="#111" stroke-width="0.15" text-anchor="start" textLength="23.00" lengthAdjust="spacingAndGlyphs" transform="rotate(-90 111.90 54.20)">CD71</text>
<line x1="108.70" y1="87.80" x2="108.70" y2="58.30" stroke="#111" stroke-width="1.0"/>
<path d="M107.30 60.80 L108.70 55.30 L110.10 60.80 Z" fill="#111" stroke="none" stroke-width="1"/>
<text x="174.50" y="111.00" font-size="8.6" font-family="'Liberation Sans', Arial, sans-serif" fill="#111" stroke="#111" stroke-width="0.15" text-anchor="start" textLength="22.80" lengthAdjust="spacingAndGlyphs">Ter119</text>
<line x1="127.00" y1="108.00" x2="167.00" y2="108.00" stroke="#111" stroke-width="1.0"/>
<path d="M163.50 106.50 L170.00 108.00 L163.50 109.50 Z" fill="#111" stroke="none" stroke-width="1"/>
<defs><clipPath id="cC1"><rect x="16.8" y="138.2" width="80.7" height="81.0"/></clipPath></defs>
<line x1="16.80" y1="138.20" x2="97.50" y2="138.20" stroke="#555" stroke-width="0.8"/>
<line x1="97.50" y1="138.20" x2="97.50" y2="219.20" stroke="#555" stroke-width="0.8"/>
<line x1="16.80" y1="219.20" x2="16.80" y2="221.10" stroke="#333" stroke-width="0.6"/>
<line x1="18.82" y1="219.20" x2="18.82" y2="220.40" stroke="#333" stroke-width="0.6"/>
<line x1="20.84" y1="219.20" x2="20.84" y2="220.40" stroke="#333" stroke-width="0.6"/>
<line x1="22.85" y1="219.20" x2="22.85" y2="220.40" stroke="#333" stroke-width="0.6"/>
<line x1="24.87" y1="219.20" x2="24.87" y2="220.40" stroke="#333" stroke-width="0.6"/>
<line x1="26.89" y1="219.20" x2="26.89" y2="220.40" stroke="#333" stroke-width="0.6"/>
<line x1="28.91" y1="219.20" x2="28.91" y2="220.40" stroke="#333" stroke-width="0.6"/>
<line x1="30.92" y1="219.20" x2="30.92" y2="220.40" stroke="#333" stroke-width="0.6"/>
<line x1="32.94" y1="219.20" x2="32.94" y2="221.10" stroke="#333" stroke-width="0.6"/>
<line x1="34.96" y1="219.20" x2="34.96" y2="220.40" stroke="#333" stroke-width="0.6"/>
<line x1="36.98" y1="219.20" x2="36.98" y2="220.40" stroke="#333" stroke-width="0.6"/>
<line x1="38.99" y1="219.20" x2="38.99" y2="220.40" stroke="#333" stroke-width="0.6"/>
<line x1="41.01" y1="219.20" x2="41.01" y2="220.40" stroke="#333" stroke-width="0.6"/>
<line x1="43.03" y1="219.20" x2="43.03" y2="220.40" stroke="#333" stroke-width="0.6"/>
<line x1="45.05" y1="219.20" x2="45.05" y2="220.40" stroke="#333" stroke-width="0.6"/>
<line x1="47.06" y1="219.20" x2="47.06" y2="220.40" stroke="#333" stroke-width="0.6"/>
<line x1="49.08" y1="219.20" x2="49.08" y2="221.10" stroke="#333" stroke-width="0.6"/>
<line x1="51.10" y1="219.20" x2="51.10" y2="220.40" stroke="#333" stroke-width="0.6"/>
<line x1="53.12" y1="219.20" x2="53.12" y2="220.40" stroke="#333" stroke-width="0.6"/>
<line x1="55.13" y1="219.20" x2="55.13" y2="220.40" stroke="#333" stroke-width="0.6"/>
<line x1="57.15" y1="219.20" x2="57.15" y2="220.40" stroke="#333" stroke-width="0.6"/>
<line x1="59.17" y1="219.20" x2="59.17" y2="220.40" stroke="#333" stroke-width="0.6"/>
<line x1="61.19" y1="219.20" x2="61.19" y2="220.40" stroke="#333" stroke-width="0.6"/>
<line x1="63.20" y1="219.20" x2="63.20" y2="220.40" stroke="#333" stroke-width="0.6"/>
<line x1="65.22" y1="219.20" x2="65.22" y2="221.10" stroke="#333" stroke-width="0.6"/>
<line x1="67.24" y1="219.20" x2="67.24" y2="220.40" stroke="#333" stroke-width="0.6"/>
<line x1="69.26" y1="219.20" x2="69.26" y2="220.40" stroke="#333" stroke-width="0.6"/>
<line x1="71.27" y1="219.20" x2="71.27" y2="220.40" stroke="#333" stroke-width="0.6"/>
<line x1="73.29" y1="219.20" x2="73.29" y2="220.40" stroke="#333" stroke-width="0.6"/>
<line x1="75.31" y1="219.20" x2="75.31" y2="220.40" stroke="#333" stroke-width="0.6"/>
<line x1="77.33" y1="219.20" x2="77.33" y2="220.40" stroke="#333" stroke-width="0.6"/>
<line x1="79.34" y1="219.20" x2="79.34" y2="220.40" stroke="#333" stroke-width="0.6"/>
<line x1="81.36" y1="219.20" x2="81.36" y2="221.10" stroke="#333" stroke-width="0.6"/>
<line x1="83.38" y1="219.20" x2="83.38" y2="220.40" stroke="#333" stroke-width="0.6"/>
<line x1="85.39" y1="219.20" x2="85.39" y2="220.40" stroke="#333" stroke-width="0.6"/>
<line x1="87.41" y1="219.20" x2="87.41" y2="220.40" stroke="#333" stroke-width="0.6"/>
<line x1="89.43" y1="219.20" x2="89.43" y2="220.40" stroke="#333" stroke-width="0.6"/>
<line x1="91.45" y1="219.20" x2="91.45" y2="220.40" stroke="#333" stroke-width="0.6"/>
<line x1="93.46" y1="219.20" x2="93.46" y2="220.40" stroke="#333" stroke-width="0.6"/>
<line x1="95.48" y1="219.20" x2="95.48" y2="220.40" stroke="#333" stroke-width="0.6"/>
<line x1="97.50" y1="219.20" x2="97.50" y2="221.10" stroke="#333" stroke-width="0.6"/>
<line x1="14.90" y1="219.20" x2="16.80" y2="219.20" stroke="#444" stroke-width="0.55"/>
<line x1="15.70" y1="217.17" x2="16.80" y2="217.17" stroke="#444" stroke-width="0.55"/>
<line x1="15.70" y1="215.15" x2="16.80" y2="215.15" stroke="#444" stroke-width="0.55"/>
<line x1="15.70" y1="213.12" x2="16.80" y2="213.12" stroke="#444" stroke-width="0.55"/>
<line x1="15.70" y1="211.10" x2="16.80" y2="211.10" stroke="#444" stroke-width="0.55"/>
<line x1="15.70" y1="209.07" x2="16.80" y2="209.07" stroke="#444" stroke-width="0.55"/>
<line x1="15.70" y1="207.05" x2="16.80" y2="207.05" stroke="#444" stroke-width="0.55"/>
<line x1="15.70" y1="205.02" x2="16.80" y2="205.02" stroke="#444" stroke-width="0.55"/>
<line x1="15.70" y1="203.00" x2="16.80" y2="203.00" stroke="#444" stroke-width="0.55"/>
<line x1="15.70" y1="200.97" x2="16.80" y2="200.97" stroke="#444" stroke-width="0.55"/>
<line x1="14.90" y1="198.95" x2="16.80" y2="198.95" stroke="#444" stroke-width="0.55"/>
<line x1="15.70" y1="196.92" x2="16.80" y2="196.92" stroke="#444" stroke-width="0.55"/>
<line x1="15.70" y1="194.90" x2="16.80" y2="194.90" stroke="#444" stroke-width="0.55"/>
<line x1="15.70" y1="192.88" x2="16.80" y2="192.88" stroke="#444" stroke-width="0.55"/>
<line x1="15.70" y1="190.85" x2="16.80" y2="190.85" stroke="#444" stroke-width="0.55"/>
<line x1="15.70" y1="188.82" x2="16.80" y2="188.82" stroke="#444" stroke-width="0.55"/>
<line x1="15.70" y1="186.80" x2="16.80" y2="186.80" stroke="#444" stroke-width="0.55"/>
<line x1="15.70" y1="184.77" x2="16.80" y2="184.77" stroke="#444" stroke-width="0.55"/>
<line x1="15.70" y1="182.75" x2="16.80" y2="182.75" stroke="#444" stroke-width="0.55"/>
<line x1="15.70" y1="180.72" x2="16.80" y2="180.72" stroke="#444" stroke-width="0.55"/>
<line x1="14.90" y1="178.70" x2="16.80" y2="178.70" stroke="#444" stroke-width="0.55"/>
<line x1="15.70" y1="176.67" x2="16.80" y2="176.67" stroke="#444" stroke-width="0.55"/>
<line x1="15.70" y1="174.65" x2="16.80" y2="174.65" stroke="#444" stroke-width="0.55"/>
<line x1="15.70" y1="172.62" x2="16.80" y2="172.62" stroke="#444" stroke-width="0.55"/>
<line x1="15.70" y1="170.60" x2="16.80" y2="170.60" stroke="#444" stroke-width="0.55"/>
<line x1="15.70" y1="168.57" x2="16.80" y2="168.57" stroke="#444" stroke-width="0.55"/>
<line x1="15.70" y1="166.55" x2="16.80" y2="166.55" stroke="#444" stroke-width="0.55"/>
<line x1="15.70" y1="164.52" x2="16.80" y2="164.52" stroke="#444" stroke-width="0.55"/>
<line x1="15.70" y1="162.50" x2="16.80" y2="162.50" stroke="#444" stroke-width="0.55"/>
<line x1="15.70" y1="160.47" x2="16.80" y2="160.47" stroke="#444" stroke-width="0.55"/>
<line x1="14.90" y1="158.45" x2="16.80" y2="158.45" stroke="#444" stroke-width="0.55"/>
<line x1="15.70" y1="156.42" x2="16.80" y2="156.42" stroke="#444" stroke-width="0.55"/>
<line x1="15.70" y1="154.40" x2="16.80" y2="154.40" stroke="#444" stroke-width="0.55"/>
<line x1="15.70" y1="152.38" x2="16.80" y2="152.38" stroke="#444" stroke-width="0.55"/>
<line x1="15.70" y1="150.35" x2="16.80" y2="150.35" stroke="#444" stroke-width="0.55"/>
<line x1="15.70" y1="148.32" x2="16.80" y2="148.32" stroke="#444" stroke-width="0.55"/>
<line x1="15.70" y1="146.30" x2="16.80" y2="146.30" stroke="#444" stroke-width="0.55"/>
<line x1="15.70" y1="144.27" x2="16.80" y2="144.27" stroke="#444" stroke-width="0.55"/>
<line x1="15.70" y1="142.25" x2="16.80" y2="142.25" stroke="#444" stroke-width="0.55"/>
<line x1="15.70" y1="140.22" x2="16.80" y2="140.22" stroke="#444" stroke-width="0.55"/>
<line x1="14.90" y1="138.20" x2="16.80" y2="138.20" stroke="#444" stroke-width="0.55"/>
<text x="9.80" y="220.50" font-size="2.6" font-family="'Liberation Sans', Arial, sans-serif" fill="#999">10</text>
<text x="9.80" y="200.25" font-size="2.6" font-family="'Liberation Sans', Arial, sans-serif" fill="#999">10</text>
<text x="9.80" y="180.00" font-size="2.6" font-family="'Liberation Sans', Arial, sans-serif" fill="#999">10</text>
<text x="9.80" y="159.75" font-size="2.6" font-family="'Liberation Sans', Arial, sans-serif" fill="#999">10</text>
<text x="9.80" y="139.50" font-size="2.6" font-family="'Liberation Sans', Arial, sans-serif" fill="#999">10</text>
<text x="16.10" y="226.20" font-size="2.6" font-family="'Liberation Sans', Arial, sans-serif" fill="#999">0</text>
<text x="31.50" y="226.20" font-size="2.6" font-family="'Liberation Sans', Arial, sans-serif" fill="#999">50</text>
<text x="46.90" y="226.20" font-size="2.6" font-family="'Liberation Sans', Arial, sans-serif" fill="#999">100</text>
<text x="62.30" y="226.20" font-size="2.6" font-family="'Liberation Sans', Arial, sans-serif" fill="#999">150</text>
<text x="77.70" y="226.20" font-size="2.6" font-family="'Liberation Sans', Arial, sans-serif" fill="#999">200</text>
<text x="93.10" y="226.20" font-size="2.6" font-family="'Liberation Sans', Arial, sans-serif" fill="#999">250</text>
<line x1="18.50" y1="149.20" x2="97.50" y2="149.20" stroke="#555" stroke-width="0.8"/>
<text x="21.20" y="146.40" font-size="6.5" font-family="'Liberation Sans', Arial, sans-serif" fill="#111" stroke="#111" stroke-width="0.18" text-anchor="start" textLength="27.80" lengthAdjust="spacingAndGlyphs">Disomic</text>
<g clip-path="url(#cC1)">
<path d="M28.00 224.00 C24.02 222.17 26.82 216.33 26.60 213.00 C26.38 209.67 26.37 206.58 26.70 204.00 C27.03 201.42 28.02 199.25 28.60 197.50 C29.18 195.75 30.03 195.58 30.20 193.50 C30.37 191.42 29.67 187.92 29.60 185.00 C29.53 182.08 29.63 178.75 29.80 176.00 C29.97 173.25 30.10 170.40 30.60 168.50 C31.10 166.60 31.65 165.58 32.80 164.60 C33.95 163.62 35.33 163.17 37.50 162.60 C39.67 162.03 43.55 161.70 45.80 161.20 C48.05 160.70 49.15 160.18 51.00 159.60 C52.85 159.02 55.15 158.27 56.90 157.70 C58.65 157.13 59.90 156.67 61.50 156.20 C63.10 155.73 64.58 155.28 66.50 154.90 C68.42 154.52 70.68 154.13 73.00 153.90 C75.32 153.67 78.32 153.58 80.40 153.50 C82.48 153.42 83.88 153.35 85.50 153.40 C87.12 153.45 88.77 153.60 90.10 153.80 C91.43 154.00 92.65 154.07 93.50 154.60 C94.35 155.13 94.87 155.78 95.20 157.00 C95.53 158.22 95.67 160.48 95.50 161.90 C95.33 163.32 94.63 164.35 94.20 165.50 C93.77 166.65 93.47 167.55 92.90 168.80 C92.33 170.05 91.50 171.62 90.80 173.00 C90.10 174.38 89.50 175.85 88.70 177.10 C87.90 178.35 86.92 179.58 86.00 180.50 C85.08 181.42 84.28 182.02 83.20 182.60 C82.12 183.18 80.78 183.63 79.50 184.00 C78.22 184.37 76.72 184.60 75.50 184.80 C74.28 185.00 73.08 184.58 72.20 185.20 C71.32 185.82 70.80 186.70 70.20 188.50 C69.60 190.30 69.08 193.58 68.60 196.00 C68.12 198.42 67.73 201.37 67.30 203.00 C66.87 204.63 66.42 205.80 66.00 205.80 C65.58 205.80 65.20 204.63 64.80 203.00 C64.40 201.37 64.07 198.42 63.60 196.00 C63.13 193.58 62.67 190.25 62.00 188.50 C61.33 186.75 60.52 185.83 59.60 185.50 C58.68 185.17 57.52 186.00 56.50 186.50 C55.48 187.00 54.52 187.75 53.50 188.50 C52.48 189.25 51.08 190.00 50.40 191.00 C49.72 192.00 49.30 192.83 49.40 194.50 C49.50 196.17 50.63 198.58 51.00 201.00 C51.37 203.42 51.68 205.17 51.60 209.00 C51.52 212.83 54.43 221.50 50.50 224.00 C46.57 226.50 31.98 225.83 28.00 224.00 Z" fill="#fff" stroke="#000" stroke-width="0.85"/>
<path d="M28.22 224.00 C24.30 222.17 27.02 216.33 26.80 213.00 C26.59 209.67 26.57 206.57 26.90 204.00 C27.24 201.43 28.21 199.30 28.79 197.56 C29.38 195.82 30.23 195.65 30.42 193.56 C30.60 191.47 29.94 187.93 29.89 185.00 C29.83 182.07 29.92 178.72 30.09 176.00 C30.25 173.28 30.40 170.53 30.89 168.68 C31.38 166.83 31.92 165.87 33.04 164.92 C34.16 163.98 35.49 163.56 37.62 163.01 C39.75 162.46 43.59 162.11 45.82 161.61 C48.05 161.11 49.16 160.59 51.00 160.01 C52.84 159.43 55.11 158.69 56.85 158.13 C58.59 157.57 59.84 157.12 61.44 156.66 C63.04 156.20 64.53 155.75 66.44 155.37 C68.35 154.99 70.59 154.62 72.88 154.39 C75.17 154.17 78.15 154.08 80.17 154.02 C82.20 153.95 83.50 153.92 85.02 153.99 C86.54 154.06 88.07 154.23 89.31 154.45 C90.55 154.67 91.67 154.78 92.46 155.31 C93.24 155.83 93.70 156.47 94.00 157.60 C94.30 158.73 94.40 160.79 94.24 162.09 C94.08 163.40 93.45 164.37 93.04 165.44 C92.63 166.51 92.31 167.33 91.78 168.52 C91.26 169.71 90.52 171.26 89.86 172.58 C89.21 173.90 88.62 175.28 87.85 176.46 C87.08 177.65 86.14 178.81 85.26 179.67 C84.37 180.53 83.57 181.10 82.52 181.64 C81.47 182.18 80.19 182.58 78.96 182.90 C77.73 183.21 76.32 183.39 75.14 183.55 C73.96 183.72 72.77 183.60 71.88 183.88 C70.98 184.16 70.36 184.68 69.76 185.22 C69.15 185.76 68.69 186.51 68.23 187.14 C67.76 187.77 67.42 188.56 66.96 189.00 C66.51 189.44 66.00 189.75 65.52 189.76 C65.04 189.78 64.58 189.48 64.10 189.07 C63.63 188.66 63.22 187.90 62.69 187.30 C62.16 186.69 61.62 185.90 60.92 185.44 C60.22 184.98 59.40 184.49 58.51 184.54 C57.62 184.59 56.53 185.15 55.58 185.72 C54.62 186.29 53.73 187.08 52.79 187.96 C51.85 188.84 50.55 189.90 49.94 191.00 C49.33 192.10 49.00 192.89 49.14 194.56 C49.28 196.23 50.41 198.59 50.78 201.00 C51.16 203.41 51.47 205.17 51.38 209.00 C51.30 212.83 54.16 221.50 50.30 224.00 C46.43 226.50 32.13 225.83 28.22 224.00 Z" fill="none" stroke="#000" stroke-width="0.6"/>
<path d="M28.59 224.00 C24.80 222.17 27.38 216.33 27.16 213.00 C26.94 209.67 26.93 206.56 27.26 204.00 C27.59 201.44 28.54 199.39 29.13 197.66 C29.72 195.94 30.58 195.78 30.79 193.66 C31.00 191.55 30.43 187.94 30.39 185.00 C30.36 182.06 30.43 178.67 30.59 176.00 C30.76 173.33 30.91 170.75 31.39 169.00 C31.87 167.24 32.39 166.37 33.46 165.49 C34.53 164.61 35.76 164.25 37.83 163.72 C39.90 163.19 43.67 162.82 45.87 162.32 C48.06 161.82 49.18 161.29 51.00 160.72 C52.82 160.15 55.05 159.43 56.77 158.89 C58.49 158.34 59.74 157.90 61.34 157.45 C62.93 157.00 64.45 156.55 66.33 156.19 C68.22 155.82 70.43 155.46 72.67 155.25 C74.91 155.04 77.85 154.96 79.77 154.92 C81.69 154.88 82.82 154.91 84.18 155.02 C85.54 155.13 86.85 155.33 87.92 155.58 C89.00 155.84 89.97 156.04 90.63 156.55 C91.29 157.06 91.67 157.67 91.90 158.65 C92.13 159.63 92.19 161.31 92.03 162.43 C91.88 163.54 91.37 164.40 91.00 165.34 C90.63 166.27 90.29 166.96 89.83 168.04 C89.37 169.13 88.81 170.63 88.23 171.84 C87.65 173.06 87.07 174.29 86.36 175.35 C85.64 176.41 84.79 177.45 83.95 178.22 C83.11 178.99 82.31 179.50 81.32 179.96 C80.33 180.42 79.15 180.73 78.02 180.96 C76.88 181.20 75.63 181.27 74.51 181.37 C73.39 181.47 72.23 181.37 71.31 181.57 C70.39 181.77 69.60 182.16 68.98 182.54 C68.36 182.93 68.01 183.42 67.58 183.88 C67.14 184.35 66.86 184.98 66.38 185.32 C65.89 185.67 65.26 185.92 64.68 185.95 C64.10 185.99 63.48 185.80 62.89 185.52 C62.29 185.25 61.73 184.71 61.09 184.31 C60.45 183.92 59.78 183.38 59.03 183.14 C58.28 182.89 57.44 182.66 56.60 182.86 C55.75 183.06 54.80 183.66 53.96 184.35 C53.12 185.05 52.36 185.91 51.55 187.01 C50.75 188.12 49.63 189.72 49.15 191.00 C48.67 192.28 48.46 193.00 48.67 194.66 C48.88 196.33 50.02 198.61 50.41 201.00 C50.79 203.39 51.08 205.17 51.01 209.00 C50.93 212.83 53.67 221.50 49.94 224.00 C46.20 226.50 32.39 225.83 28.59 224.00 Z" fill="none" stroke="#000" stroke-width="0.7"/>
<path d="M29.01 224.00 C25.34 222.17 27.78 216.33 27.55 213.00 C27.33 209.67 27.33 206.54 27.65 204.00 C27.98 201.46 28.90 199.48 29.50 197.78 C30.09 196.08 30.97 195.91 31.21 193.78 C31.45 191.65 30.95 187.96 30.94 185.00 C30.93 182.04 30.98 178.61 31.14 176.00 C31.31 173.39 31.48 170.99 31.94 169.34 C32.41 167.69 32.90 166.92 33.92 166.11 C34.94 165.31 36.06 165.01 38.06 164.50 C40.06 164.00 43.76 163.60 45.91 163.10 C48.07 162.60 49.21 162.07 51.00 161.50 C52.79 160.94 54.97 160.25 56.68 159.72 C58.38 159.19 59.63 158.77 61.22 158.33 C62.81 157.89 64.35 157.44 66.22 157.08 C68.09 156.73 70.25 156.39 72.44 156.20 C74.63 156.00 77.53 155.92 79.34 155.91 C81.14 155.90 82.08 155.99 83.26 156.14 C84.44 156.30 85.51 156.53 86.40 156.82 C87.30 157.12 88.10 157.41 88.63 157.90 C89.16 158.40 89.43 158.98 89.60 159.80 C89.77 160.62 89.76 161.89 89.62 162.80 C89.48 163.70 89.09 164.43 88.77 165.22 C88.45 166.01 88.08 166.54 87.69 167.51 C87.30 168.48 86.93 169.94 86.43 171.04 C85.94 172.14 85.37 173.20 84.72 174.13 C84.07 175.06 83.31 175.97 82.53 176.64 C81.74 177.30 80.93 177.75 80.01 178.12 C79.08 178.49 78.01 178.71 76.98 178.85 C75.95 178.99 74.87 178.94 73.82 178.98 C72.77 179.01 71.64 178.93 70.69 179.04 C69.74 179.15 68.77 179.40 68.13 179.61 C67.49 179.82 67.26 180.04 66.86 180.32 C66.46 180.60 66.25 181.06 65.73 181.30 C65.21 181.54 64.46 181.73 63.76 181.78 C63.06 181.84 62.29 181.76 61.55 181.64 C60.82 181.51 60.11 181.22 59.34 181.05 C58.58 180.88 57.77 180.62 56.96 180.62 C56.15 180.61 55.30 180.65 54.50 181.02 C53.71 181.39 52.91 182.03 52.19 182.86 C51.47 183.69 50.85 184.62 50.20 185.98 C49.54 187.34 48.61 189.53 48.27 191.00 C47.93 192.47 47.88 193.11 48.17 194.78 C48.45 196.45 49.59 198.63 49.99 201.00 C50.40 203.37 50.67 205.17 50.59 209.00 C50.52 212.83 53.15 221.50 49.55 224.00 C45.95 226.50 32.67 225.83 29.01 224.00 Z" fill="none" stroke="#000" stroke-width="0.7"/>
<path d="M29.40 224.00 C25.86 222.17 28.16 216.33 27.93 213.00 C27.70 209.67 27.71 206.52 28.03 204.00 C28.35 201.48 29.25 199.57 29.85 197.89 C30.44 196.20 31.33 196.04 31.60 193.89 C31.87 191.74 31.46 187.98 31.47 185.00 C31.48 182.02 31.51 178.56 31.67 176.00 C31.84 173.44 32.02 171.22 32.47 169.67 C32.92 168.12 33.39 167.44 34.36 166.71 C35.33 165.97 36.35 165.73 38.28 165.25 C40.21 164.78 43.84 164.35 45.96 163.85 C48.08 163.35 49.23 162.81 51.00 162.25 C52.77 161.69 54.90 161.02 56.59 160.51 C58.27 159.99 59.52 159.59 61.11 159.16 C62.70 158.74 64.26 158.29 66.11 157.94 C67.96 157.60 70.09 157.28 72.22 157.10 C74.35 156.92 77.22 156.83 78.92 156.85 C80.61 156.87 81.37 157.03 82.38 157.22 C83.39 157.42 84.23 157.68 84.95 158.01 C85.67 158.34 86.31 158.72 86.71 159.20 C87.12 159.68 87.30 160.24 87.40 160.90 C87.50 161.56 87.44 162.45 87.31 163.15 C87.18 163.85 86.91 164.47 86.63 165.11 C86.36 165.75 85.97 166.15 85.65 167.01 C85.33 167.87 85.13 169.28 84.72 170.27 C84.30 171.26 83.75 172.16 83.16 172.97 C82.57 173.77 81.90 174.55 81.16 175.12 C80.43 175.68 79.62 176.08 78.75 176.36 C77.89 176.64 76.92 176.77 75.99 176.82 C75.06 176.88 74.14 176.72 73.16 176.69 C72.18 176.65 71.07 176.60 70.09 176.62 C69.12 176.64 67.97 176.76 67.31 176.81 C66.66 176.85 66.55 176.80 66.18 176.91 C65.82 177.02 65.67 177.30 65.12 177.45 C64.57 177.60 63.69 177.71 62.88 177.79 C62.07 177.87 61.14 177.90 60.28 177.92 C59.41 177.94 58.55 177.88 57.67 177.92 C56.79 177.97 55.84 177.99 54.98 178.21 C54.12 178.43 53.25 178.72 52.50 179.26 C51.75 179.80 51.09 180.47 50.49 181.43 C49.89 182.39 49.41 183.40 48.90 184.99 C48.39 186.59 47.64 189.35 47.44 191.00 C47.23 192.65 47.32 193.22 47.68 194.89 C48.04 196.56 49.18 198.65 49.60 201.00 C50.01 203.35 50.27 205.17 50.20 209.00 C50.13 212.83 52.64 221.50 49.17 224.00 C45.71 226.50 32.95 225.83 29.40 224.00 Z" fill="none" stroke="#000" stroke-width="0.7"/>
<path d="M29.80 224.00 C26.38 222.17 28.53 216.33 28.30 213.00 C28.07 209.67 28.08 206.50 28.40 204.00 C28.72 201.50 29.60 199.67 30.20 198.00 C30.80 196.33 31.70 196.17 32.00 194.00 C32.30 191.83 31.97 188.00 32.00 185.00 C32.03 182.00 32.03 178.50 32.20 176.00 C32.37 173.50 32.57 171.45 33.00 170.00 C33.43 168.55 33.88 167.97 34.80 167.30 C35.72 166.63 36.63 166.45 38.50 166.00 C40.37 165.55 43.92 165.10 46.00 164.60 C48.08 164.10 49.25 163.55 51.00 163.00 C52.75 162.45 54.83 161.80 56.50 161.30 C58.17 160.80 59.42 160.42 61.00 160.00 C62.58 159.58 64.17 159.13 66.00 158.80 C67.83 158.47 69.92 158.17 72.00 158.00 C74.08 157.83 76.92 157.75 78.50 157.80 C80.08 157.85 80.67 158.07 81.50 158.30 C82.33 158.53 82.95 158.83 83.50 159.20 C84.05 159.57 84.52 160.03 84.80 160.50 C85.08 160.97 85.17 161.50 85.20 162.00 C85.23 162.50 85.12 163.00 85.00 163.50 C84.88 164.00 84.73 164.50 84.50 165.00 C84.27 165.50 83.85 165.75 83.60 166.50 C83.35 167.25 83.33 168.62 83.00 169.50 C82.67 170.38 82.13 171.12 81.60 171.80 C81.07 172.48 80.48 173.13 79.80 173.60 C79.12 174.07 78.30 174.40 77.50 174.60 C76.70 174.80 75.83 174.83 75.00 174.80 C74.17 174.77 73.42 174.50 72.50 174.40 C71.58 174.30 70.50 174.27 69.50 174.20 C68.50 174.13 67.17 174.12 66.50 174.00 C65.83 173.88 65.83 173.57 65.50 173.50 C65.17 173.43 65.08 173.55 64.50 173.60 C63.92 173.65 62.92 173.70 62.00 173.80 C61.08 173.90 60.00 174.03 59.00 174.20 C58.00 174.37 57.00 174.53 56.00 174.80 C55.00 175.07 53.92 175.35 53.00 175.80 C52.08 176.25 51.20 176.80 50.50 177.50 C49.80 178.20 49.28 178.92 48.80 180.00 C48.32 181.08 47.97 182.17 47.60 184.00 C47.23 185.83 46.67 189.17 46.60 191.00 C46.53 192.83 46.77 193.33 47.20 195.00 C47.63 196.67 48.77 198.67 49.20 201.00 C49.63 203.33 49.87 205.17 49.80 209.00 C49.73 212.83 52.13 221.50 48.80 224.00 C45.47 226.50 33.22 225.83 29.80 224.00 Z" fill="#000" stroke="#000" stroke-width="0.5"/>
</g>
<defs><clipPath id="tC1"><path d="M29.80 224.00 C26.38 222.17 28.53 216.33 28.30 213.00 C28.07 209.67 28.08 206.50 28.40 204.00 C28.72 201.50 29.60 199.67 30.20 198.00 C30.80 196.33 31.70 196.17 32.00 194.00 C32.30 191.83 31.97 188.00 32.00 185.00 C32.03 182.00 32.03 178.50 32.20 176.00 C32.37 173.50 32.57 171.45 33.00 170.00 C33.43 168.55 33.88 167.97 34.80 167.30 C35.72 166.63 36.63 166.45 38.50 166.00 C40.37 165.55 43.92 165.10 46.00 164.60 C48.08 164.10 49.25 163.55 51.00 163.00 C52.75 162.45 54.83 161.80 56.50 161.30 C58.17 160.80 59.42 160.42 61.00 160.00 C62.58 159.58 64.17 159.13 66.00 158.80 C67.83 158.47 69.92 158.17 72.00 158.00 C74.08 157.83 76.92 157.75 78.50 157.80 C80.08 157.85 80.67 158.07 81.50 158.30 C82.33 158.53 82.95 158.83 83.50 159.20 C84.05 159.57 84.52 160.03 84.80 160.50 C85.08 160.97 85.17 161.50 85.20 162.00 C85.23 162.50 85.12 163.00 85.00 163.50 C84.88 164.00 84.73 164.50 84.50 165.00 C84.27 165.50 83.85 165.75 83.60 166.50 C83.35 167.25 83.33 168.62 83.00 169.50 C82.67 170.38 82.13 171.12 81.60 171.80 C81.07 172.48 80.48 173.13 79.80 173.60 C79.12 174.07 78.30 174.40 77.50 174.60 C76.70 174.80 75.83 174.83 75.00 174.80 C74.17 174.77 73.42 174.50 72.50 174.40 C71.58 174.30 70.50 174.27 69.50 174.20 C68.50 174.13 67.17 174.12 66.50 174.00 C65.83 173.88 65.83 173.57 65.50 173.50 C65.17 173.43 65.08 173.55 64.50 173.60 C63.92 173.65 62.92 173.70 62.00 173.80 C61.08 173.90 60.00 174.03 59.00 174.20 C58.00 174.37 57.00 174.53 56.00 174.80 C55.00 175.07 53.92 175.35 53.00 175.80 C52.08 176.25 51.20 176.80 50.50 177.50 C49.80 178.20 49.28 178.92 48.80 180.00 C48.32 181.08 47.97 182.17 47.60 184.00 C47.23 185.83 46.67 189.17 46.60 191.00 C46.53 192.83 46.77 193.33 47.20 195.00 C47.63 196.67 48.77 198.67 49.20 201.00 C49.63 203.33 49.87 205.17 49.80 209.00 C49.73 212.83 52.13 221.50 48.80 224.00 C45.47 226.50 33.22 225.83 29.80 224.00 Z"/></clipPath></defs>
<g clip-path="url(#tC1)" stroke="#fff" stroke-width="0.45" fill="none" opacity="0.9">
<path d="M79.17 171.14 Q80.12 172.14 82.07 172.16"/>
<path d="M70.68 170.31 Q71.55 170.42 71.44 169.90"/>
<path d="M41.34 176.30 Q41.81 178.04 41.90 178.72"/>
<path d="M33.83 170.95 Q34.67 171.20 35.69 170.35"/>
<path d="M42.60 207.49 Q44.09 208.42 43.98 207.77"/>
<path d="M42.91 174.20 Q43.72 173.91 43.67 173.94"/>
<path d="M61.91 172.45 Q63.12 172.65 63.02 172.94"/>
<path d="M63.11 167.36 Q63.21 167.26 63.91 168.72"/>
<path d="M75.29 161.53 Q76.13 160.90 76.03 161.30"/>
<path d="M39.71 200.39 Q40.28 200.60 42.08 201.06"/>
<path d="M33.01 215.88 Q33.71 216.32 35.95 217.76"/>
<path d="M33.59 169.81 Q35.30 169.54 35.95 169.64"/>
<path d="M34.26 181.15 Q34.57 182.63 35.04 182.64"/>
<path d="M77.96 161.76 Q77.76 162.66 78.42 163.20"/>
<path d="M35.38 210.47 Q35.44 210.65 35.56 212.18"/>
<path d="M34.45 167.01 Q35.19 168.22 36.70 168.40"/>
<path d="M58.56 162.28 Q59.27 163.01 59.78 162.61"/>
<path d="M36.92 189.85 Q37.48 188.91 38.22 189.37"/>
<path d="M37.23 208.21 Q37.57 208.21 38.07 208.75"/>
<path d="M41.85 217.24 Q41.85 217.38 43.35 217.20"/>
<path d="M39.75 184.99 Q39.98 185.75 40.06 185.75"/>
<path d="M44.90 217.05 Q46.04 218.42 46.00 220.06"/>
<path d="M45.09 180.89 Q46.39 180.39 47.35 181.24"/>
<path d="M46.91 188.87 Q48.35 189.15 49.54 189.61"/>
<path d="M40.26 179.38 Q41.32 178.68 40.91 179.23"/>
<path d="M57.21 160.15 Q56.92 161.34 57.68 161.24"/>
<path d="M65.94 163.14 Q67.64 163.41 68.36 162.86"/>
<path d="M46.20 204.84 Q46.69 205.43 47.19 204.94"/>
<path d="M42.96 190.70 Q43.52 189.99 44.80 190.20"/>
<path d="M61.77 166.76 Q61.92 167.99 61.66 169.80"/>
<path d="M36.89 181.80 Q37.93 182.07 38.48 182.14"/>
<path d="M39.08 200.37 Q40.91 201.60 41.79 201.28"/>
<path d="M39.25 182.38 Q39.52 183.59 39.20 185.76"/>
<path d="M57.22 169.28 Q57.12 169.84 57.89 169.50"/>
<path d="M38.90 214.21 Q40.72 214.40 41.82 215.76"/>
<path d="M55.09 171.54 Q56.13 171.35 57.16 170.14"/>
<path d="M64.69 168.47 Q65.67 170.10 66.18 171.04"/>
<path d="M36.63 204.98 Q38.84 203.78 39.66 203.35"/>
<path d="M37.88 168.15 Q39.27 167.30 40.70 167.95"/>
<path d="M39.01 166.91 Q39.17 169.33 39.43 170.14"/>
<path d="M82.05 166.40 Q82.62 166.39 83.11 167.04"/>
<path d="M40.84 215.40 Q42.24 216.11 42.54 215.53"/>
<path d="M37.57 199.25 Q38.44 198.68 39.61 199.36"/>
<path d="M41.47 166.72 Q42.70 167.29 42.96 167.66"/>
<path d="M51.36 162.17 Q53.26 162.82 54.20 163.78"/>
<path d="M40.10 198.92 Q40.46 200.18 40.89 202.03"/>
<path d="M39.29 196.68 Q39.31 197.67 40.81 199.76"/>
<path d="M42.62 174.37 Q43.14 174.20 42.92 175.23"/>
<path d="M73.84 169.12 Q75.45 169.84 76.03 170.19"/>
<path d="M45.96 208.28 Q47.12 207.34 48.01 207.56"/>
<path d="M80.50 164.11 Q81.53 165.30 80.97 165.25"/>
<path d="M46.33 199.05 Q47.86 198.68 47.97 198.17"/>
<path d="M36.01 210.44 Q36.84 211.35 38.12 211.23"/>
<path d="M52.15 166.57 Q52.89 166.28 54.62 167.36"/>
<path d="M33.34 185.81 Q32.88 186.19 33.41 187.81"/>
<path d="M45.60 218.78 Q46.67 218.91 46.28 219.16"/>
<path d="M37.58 178.14 Q37.97 178.48 39.92 178.18"/>
<path d="M35.72 206.44 Q35.74 206.63 36.84 206.77"/>
<path d="M37.53 168.21 Q37.85 169.89 36.76 171.35"/>
<path d="M40.56 218.60 Q42.47 219.63 43.59 219.76"/>
<path d="M52.80 164.29 Q53.21 163.86 54.65 164.38"/>
<path d="M34.06 203.86 Q35.10 204.03 35.69 203.80"/>
<path d="M37.09 218.11 Q37.45 217.22 38.82 217.69"/>
<path d="M71.12 169.12 Q71.26 169.83 71.03 169.78"/>
<path d="M63.97 166.56 Q63.54 166.52 63.88 167.19"/>
<path d="M67.80 166.60 Q69.50 168.02 70.75 168.45"/>
<path d="M40.69 183.38 Q41.93 184.99 43.53 185.11"/>
<path d="M67.51 167.76 Q68.06 167.40 68.93 167.64"/>
<path d="M65.40 163.51 Q64.17 165.25 64.46 166.11"/>
<path d="M41.86 176.63 Q42.44 176.93 43.34 176.96"/>
<path d="M50.65 171.77 Q51.94 171.66 54.06 171.48"/>
<path d="M53.20 172.48 Q53.24 172.20 53.54 173.14"/>
<path d="M37.99 170.02 Q39.05 170.10 39.78 169.73"/>
<path d="M61.10 169.67 Q61.18 169.91 62.44 170.20"/>
<path d="M76.24 168.12 Q77.61 168.05 78.78 167.69"/>
<path d="M75.12 162.47 Q76.47 163.18 76.60 165.37"/>
<path d="M33.13 172.75 Q33.30 172.82 34.18 172.08"/>
<path d="M41.26 210.52 Q41.61 210.82 42.46 210.33"/>
<path d="M44.23 177.63 Q43.84 179.41 43.63 180.39"/>
<path d="M77.16 164.80 Q77.22 165.96 77.13 166.34"/>
<path d="M39.41 204.49 Q39.00 204.92 39.92 205.15"/>
<path d="M77.35 166.03 Q78.70 166.48 78.74 166.59"/>
<path d="M65.81 169.93 Q66.29 170.23 66.27 171.08"/>
<path d="M37.51 177.47 Q37.23 178.81 37.66 180.05"/>
<path d="M64.50 162.88 Q63.43 164.37 63.70 164.81"/>
<path d="M38.09 176.29 Q39.67 176.20 40.30 175.99"/>
<path d="M35.65 213.46 Q35.97 213.67 36.25 213.75"/>
<path d="M82.79 168.47 Q84.27 168.19 84.83 169.25"/>
<path d="M36.83 168.74 Q37.40 168.97 39.26 168.19"/>
<path d="M56.84 162.87 Q58.01 163.05 59.51 163.75"/>
</g>
<g clip-path="url(#cC1)">
<path d="M50 167.5 C56 165.5 62 163 68 161.3 C74 160 80 160 85 161" fill="none" stroke="#fff" stroke-width="0.5"/>
<path d="M52 171 C58 169 63 166.5 69 164.5 C74 163.1 79 163.3 83.5 164.5" fill="none" stroke="#fff" stroke-width="0.45"/>
<path d="M52 174.5 C57 173 62 171.5 67 169.5 C71 168 75 167.5 79 168.5" fill="none" stroke="#fff" stroke-width="0.45"/>
<path d="M56 176 C60 175.4 64 175 68 174 C72 173 76 172.4 80 172" fill="none" stroke="#fff" stroke-width="0.4"/>
<path d="M55 166 C57 168 58.5 171 58 175" fill="none" stroke="#fff" stroke-width="0.45"/>
<path d="M62 163.5 C63 166 64 169 63 173" fill="none" stroke="#fff" stroke-width="0.45"/>
<path d="M69 161.5 C70 164 70 167 69.5 170.5" fill="none" stroke="#fff" stroke-width="0.45"/>
<path d="M75 160.5 C76.5 163 76.5 166 75.5 168" fill="none" stroke="#fff" stroke-width="0.4"/>
<path d="M47.5 172 C48.5 175 48.2 178 47.8 181" fill="none" stroke="#fff" stroke-width="0.4"/>
<path d="M45.2 194 C41 192.6 36 192.6 33.2 194" fill="none" stroke="#fff" stroke-width="0.5"/>
<path d="M46.0 195.4 C41 194.2 36 194.2 32.6 195.6" fill="none" stroke="#fff" stroke-width="0.35"/>
<circle cx="38" cy="180" r="0.6" fill="#bbb"/>
<circle cx="36.5" cy="186" r="0.5" fill="#999"/>
<circle cx="40.5" cy="199" r="0.6" fill="#aaa"/>
<circle cx="37" cy="211" r="0.6" fill="#aaa"/>
<circle cx="41" cy="214" r="0.5" fill="#999"/>
<circle cx="34.5" cy="201" r="0.45" fill="#888"/>
<circle cx="43" cy="186" r="0.45" fill="#888"/>
</g>
<rect x="23.60" y="149.40" width="33.40" height="43.40" fill="none" stroke="#666" stroke-width="0.8"/>
<line x1="18.60" y1="138.20" x2="18.60" y2="149.20" stroke="#555" stroke-width="0.8"/>
<rect x="57.00" y="149.40" width="40.00" height="41.60" fill="none" stroke="#666" stroke-width="0.8"/>
<rect x="25.60" y="194.20" width="31.40" height="25.00" fill="none" stroke="#666" stroke-width="0.8"/>
<rect x="57.00" y="191.00" width="40.00" height="28.20" fill="none" stroke="#666" stroke-width="0.8"/>
<rect x="36.10" y="169.50" width="8.30" height="4.10" fill="#fff" stroke="none" stroke-width="1"/>
<text x="36.90" y="172.60" font-size="2.60" font-family="'Liberation Sans', Arial, sans-serif" fill="#888" textLength="6.70" lengthAdjust="spacingAndGlyphs">44.2</text>
<path d="M38.8 173.6 L40.2 173.6 L39.9 186 L39.2 190 L38.7 182 Z" fill="#999" stroke="none" stroke-width="1"/>
<rect x="35.50" y="204.50" width="7.80" height="4.20" fill="#fff" stroke="none" stroke-width="1"/>
<text x="36.30" y="207.70" font-size="2.60" font-family="'Liberation Sans', Arial, sans-serif" fill="#888" textLength="6.20" lengthAdjust="spacingAndGlyphs">44.2</text>
<rect x="72.80" y="168.80" width="6.90" height="4.40" fill="#fff" stroke="none" stroke-width="1"/>
<text x="73.60" y="172.20" font-size="2.60" font-family="'Liberation Sans', Arial, sans-serif" fill="#888" textLength="5.30" lengthAdjust="spacingAndGlyphs">44.2</text>
<rect x="72.80" y="168.80" width="6.90" height="4.40" fill="#ccc" stroke="none" stroke-width="1" opacity="0.6"/>
<path d="M38 196 L40 195 L41 200 L39.5 203 Z M36 212 L38 212 L37.5 216 Z" fill="#999" stroke="none" stroke-width="1"/>
<text x="28.00" y="157.40" font-size="6.5" font-family="'Liberation Sans', Arial, sans-serif" fill="#111" stroke="#111" stroke-width="0.18" text-anchor="start" textLength="15.30" lengthAdjust="spacingAndGlyphs">EryB</text>
<text x="80.80" y="190.20" font-size="6.5" font-family="'Liberation Sans', Arial, sans-serif" fill="#111" stroke="#111" stroke-width="0.18" text-anchor="start" textLength="14.80" lengthAdjust="spacingAndGlyphs">EryA</text>
<text x="62.00" y="214.60" font-size="6.5" font-family="'Liberation Sans', Arial, sans-serif" fill="#111" stroke="#111" stroke-width="0.18" text-anchor="start" textLength="15.90" lengthAdjust="spacingAndGlyphs">EryC</text>
<line x1="16.80" y1="137.70" x2="16.80" y2="219.80" stroke="#000" stroke-width="1.2"/>
<line x1="16.20" y1="219.20" x2="97.90" y2="219.20" stroke="#000" stroke-width="1.3"/>
<text x="7.00" y="173.30" font-size="7.8" font-family="'Liberation Sans', Arial, sans-serif" fill="#111" stroke="#111" stroke-width="0.15" text-anchor="start" textLength="20.80" lengthAdjust="spacingAndGlyphs" transform="rotate(-90 7.00 173.30)">CD71</text>
<line x1="3.80" y1="210.80" x2="3.80" y2="182.60" stroke="#111" stroke-width="1.0"/>
<path d="M2.40 185.10 L3.80 179.60 L5.20 185.10 Z" fill="#111" stroke="none" stroke-width="1"/>
<text x="74.00" y="234.80" font-size="8.6" font-family="'Liberation Sans', Arial, sans-serif" fill="#111" stroke="#111" stroke-width="0.15" text-anchor="start" textLength="15.40" lengthAdjust="spacingAndGlyphs">FSC</text>
<line x1="24.00" y1="232.90" x2="60.50" y2="232.90" stroke="#111" stroke-width="1.0"/>
<path d="M57.00 231.40 L63.50 232.90 L57.00 234.40 Z" fill="#111" stroke="none" stroke-width="1"/>
<defs><clipPath id="cC2"><rect x="120.6" y="138.7" width="81.9" height="81.70000000000002"/></clipPath></defs>
<line x1="120.60" y1="138.70" x2="202.50" y2="138.70" stroke="#555" stroke-width="0.8"/>
<line x1="202.50" y1="138.70" x2="202.50" y2="220.40" stroke="#555" stroke-width="0.8"/>
<line x1="120.60" y1="220.40" x2="120.60" y2="222.30" stroke="#333" stroke-width="0.6"/>
<line x1="122.65" y1="220.40" x2="122.65" y2="221.60" stroke="#333" stroke-width="0.6"/>
<line x1="124.69" y1="220.40" x2="124.69" y2="221.60" stroke="#333" stroke-width="0.6"/>
<line x1="126.74" y1="220.40" x2="126.74" y2="221.60" stroke="#333" stroke-width="0.6"/>
<line x1="128.79" y1="220.40" x2="128.79" y2="221.60" stroke="#333" stroke-width="0.6"/>
<line x1="130.84" y1="220.40" x2="130.84" y2="221.60" stroke="#333" stroke-width="0.6"/>
<line x1="132.88" y1="220.40" x2="132.88" y2="221.60" stroke="#333" stroke-width="0.6"/>
<line x1="134.93" y1="220.40" x2="134.93" y2="221.60" stroke="#333" stroke-width="0.6"/>
<line x1="136.98" y1="220.40" x2="136.98" y2="222.30" stroke="#333" stroke-width="0.6"/>
<line x1="139.03" y1="220.40" x2="139.03" y2="221.60" stroke="#333" stroke-width="0.6"/>
<line x1="141.07" y1="220.40" x2="141.07" y2="221.60" stroke="#333" stroke-width="0.6"/>
<line x1="143.12" y1="220.40" x2="143.12" y2="221.60" stroke="#333" stroke-width="0.6"/>
<line x1="145.17" y1="220.40" x2="145.17" y2="221.60" stroke="#333" stroke-width="0.6"/>
<line x1="147.22" y1="220.40" x2="147.22" y2="221.60" stroke="#333" stroke-width="0.6"/>
<line x1="149.26" y1="220.40" x2="149.26" y2="221.60" stroke="#333" stroke-width="0.6"/>
<line x1="151.31" y1="220.40" x2="151.31" y2="221.60" stroke="#333" stroke-width="0.6"/>
<line x1="153.36" y1="220.40" x2="153.36" y2="222.30" stroke="#333" stroke-width="0.6"/>
<line x1="155.41" y1="220.40" x2="155.41" y2="221.60" stroke="#333" stroke-width="0.6"/>
<line x1="157.45" y1="220.40" x2="157.45" y2="221.60" stroke="#333" stroke-width="0.6"/>
<line x1="159.50" y1="220.40" x2="159.50" y2="221.60" stroke="#333" stroke-width="0.6"/>
<line x1="161.55" y1="220.40" x2="161.55" y2="221.60" stroke="#333" stroke-width="0.6"/>
<line x1="163.60" y1="220.40" x2="163.60" y2="221.60" stroke="#333" stroke-width="0.6"/>
<line x1="165.64" y1="220.40" x2="165.64" y2="221.60" stroke="#333" stroke-width="0.6"/>
<line x1="167.69" y1="220.40" x2="167.69" y2="221.60" stroke="#333" stroke-width="0.6"/>
<line x1="169.74" y1="220.40" x2="169.74" y2="222.30" stroke="#333" stroke-width="0.6"/>
<line x1="171.79" y1="220.40" x2="171.79" y2="221.60" stroke="#333" stroke-width="0.6"/>
<line x1="173.83" y1="220.40" x2="173.83" y2="221.60" stroke="#333" stroke-width="0.6"/>
<line x1="175.88" y1="220.40" x2="175.88" y2="221.60" stroke="#333" stroke-width="0.6"/>
<line x1="177.93" y1="220.40" x2="177.93" y2="221.60" stroke="#333" stroke-width="0.6"/>
<line x1="179.98" y1="220.40" x2="179.98" y2="221.60" stroke="#333" stroke-width="0.6"/>
<line x1="182.02" y1="220.40" x2="182.02" y2="221.60" stroke="#333" stroke-width="0.6"/>
<line x1="184.07" y1="220.40" x2="184.07" y2="221.60" stroke="#333" stroke-width="0.6"/>
<line x1="186.12" y1="220.40" x2="186.12" y2="222.30" stroke="#333" stroke-width="0.6"/>
<line x1="188.17" y1="220.40" x2="188.17" y2="221.60" stroke="#333" stroke-width="0.6"/>
<line x1="190.22" y1="220.40" x2="190.22" y2="221.60" stroke="#333" stroke-width="0.6"/>
<line x1="192.26" y1="220.40" x2="192.26" y2="221.60" stroke="#333" stroke-width="0.6"/>
<line x1="194.31" y1="220.40" x2="194.31" y2="221.60" stroke="#333" stroke-width="0.6"/>
<line x1="196.36" y1="220.40" x2="196.36" y2="221.60" stroke="#333" stroke-width="0.6"/>
<line x1="198.41" y1="220.40" x2="198.41" y2="221.60" stroke="#333" stroke-width="0.6"/>
<line x1="200.45" y1="220.40" x2="200.45" y2="221.60" stroke="#333" stroke-width="0.6"/>
<line x1="202.50" y1="220.40" x2="202.50" y2="222.30" stroke="#333" stroke-width="0.6"/>
<line x1="118.70" y1="220.40" x2="120.60" y2="220.40" stroke="#444" stroke-width="0.55"/>
<line x1="119.50" y1="218.36" x2="120.60" y2="218.36" stroke="#444" stroke-width="0.55"/>
<line x1="119.50" y1="216.31" x2="120.60" y2="216.31" stroke="#444" stroke-width="0.55"/>
<line x1="119.50" y1="214.27" x2="120.60" y2="214.27" stroke="#444" stroke-width="0.55"/>
<line x1="119.50" y1="212.23" x2="120.60" y2="212.23" stroke="#444" stroke-width="0.55"/>
<line x1="119.50" y1="210.19" x2="120.60" y2="210.19" stroke="#444" stroke-width="0.55"/>
<line x1="119.50" y1="208.15" x2="120.60" y2="208.15" stroke="#444" stroke-width="0.55"/>
<line x1="119.50" y1="206.10" x2="120.60" y2="206.10" stroke="#444" stroke-width="0.55"/>
<line x1="119.50" y1="204.06" x2="120.60" y2="204.06" stroke="#444" stroke-width="0.55"/>
<line x1="119.50" y1="202.02" x2="120.60" y2="202.02" stroke="#444" stroke-width="0.55"/>
<line x1="118.70" y1="199.97" x2="120.60" y2="199.97" stroke="#444" stroke-width="0.55"/>
<line x1="119.50" y1="197.93" x2="120.60" y2="197.93" stroke="#444" stroke-width="0.55"/>
<line x1="119.50" y1="195.89" x2="120.60" y2="195.89" stroke="#444" stroke-width="0.55"/>
<line x1="119.50" y1="193.85" x2="120.60" y2="193.85" stroke="#444" stroke-width="0.55"/>
<line x1="119.50" y1="191.81" x2="120.60" y2="191.81" stroke="#444" stroke-width="0.55"/>
<line x1="119.50" y1="189.76" x2="120.60" y2="189.76" stroke="#444" stroke-width="0.55"/>
<line x1="119.50" y1="187.72" x2="120.60" y2="187.72" stroke="#444" stroke-width="0.55"/>
<line x1="119.50" y1="185.68" x2="120.60" y2="185.68" stroke="#444" stroke-width="0.55"/>
<line x1="119.50" y1="183.63" x2="120.60" y2="183.63" stroke="#444" stroke-width="0.55"/>
<line x1="119.50" y1="181.59" x2="120.60" y2="181.59" stroke="#444" stroke-width="0.55"/>
<line x1="118.70" y1="179.55" x2="120.60" y2="179.55" stroke="#444" stroke-width="0.55"/>
<line x1="119.50" y1="177.51" x2="120.60" y2="177.51" stroke="#444" stroke-width="0.55"/>
<line x1="119.50" y1="175.47" x2="120.60" y2="175.47" stroke="#444" stroke-width="0.55"/>
<line x1="119.50" y1="173.42" x2="120.60" y2="173.42" stroke="#444" stroke-width="0.55"/>
<line x1="119.50" y1="171.38" x2="120.60" y2="171.38" stroke="#444" stroke-width="0.55"/>
<line x1="119.50" y1="169.34" x2="120.60" y2="169.34" stroke="#444" stroke-width="0.55"/>
<line x1="119.50" y1="167.30" x2="120.60" y2="167.30" stroke="#444" stroke-width="0.55"/>
<line x1="119.50" y1="165.25" x2="120.60" y2="165.25" stroke="#444" stroke-width="0.55"/>
<line x1="119.50" y1="163.21" x2="120.60" y2="163.21" stroke="#444" stroke-width="0.55"/>
<line x1="119.50" y1="161.17" x2="120.60" y2="161.17" stroke="#444" stroke-width="0.55"/>
<line x1="118.70" y1="159.12" x2="120.60" y2="159.12" stroke="#444" stroke-width="0.55"/>
<line x1="119.50" y1="157.08" x2="120.60" y2="157.08" stroke="#444" stroke-width="0.55"/>
<line x1="119.50" y1="155.04" x2="120.60" y2="155.04" stroke="#444" stroke-width="0.55"/>
<line x1="119.50" y1="153.00" x2="120.60" y2="153.00" stroke="#444" stroke-width="0.55"/>
<line x1="119.50" y1="150.95" x2="120.60" y2="150.95" stroke="#444" stroke-width="0.55"/>
<line x1="119.50" y1="148.91" x2="120.60" y2="148.91" stroke="#444" stroke-width="0.55"/>
<line x1="119.50" y1="146.87" x2="120.60" y2="146.87" stroke="#444" stroke-width="0.55"/>
<line x1="119.50" y1="144.83" x2="120.60" y2="144.83" stroke="#444" stroke-width="0.55"/>
<line x1="119.50" y1="142.78" x2="120.60" y2="142.78" stroke="#444" stroke-width="0.55"/>
<line x1="119.50" y1="140.74" x2="120.60" y2="140.74" stroke="#444" stroke-width="0.55"/>
<line x1="118.70" y1="138.70" x2="120.60" y2="138.70" stroke="#444" stroke-width="0.55"/>
<text x="113.50" y="221.70" font-size="2.6" font-family="'Liberation Sans', Arial, sans-serif" fill="#999">10</text>
<text x="113.50" y="201.28" font-size="2.6" font-family="'Liberation Sans', Arial, sans-serif" fill="#999">10</text>
<text x="113.50" y="180.85" font-size="2.6" font-family="'Liberation Sans', Arial, sans-serif" fill="#999">10</text>
<text x="113.50" y="160.43" font-size="2.6" font-family="'Liberation Sans', Arial, sans-serif" fill="#999">10</text>
<text x="113.50" y="140.00" font-size="2.6" font-family="'Liberation Sans', Arial, sans-serif" fill="#999">10</text>
<text x="119.90" y="226.60" font-size="2.6" font-family="'Liberation Sans', Arial, sans-serif" fill="#999">0</text>
<text x="135.53" y="226.60" font-size="2.6" font-family="'Liberation Sans', Arial, sans-serif" fill="#999">50</text>
<text x="151.16" y="226.60" font-size="2.6" font-family="'Liberation Sans', Arial, sans-serif" fill="#999">100</text>
<text x="166.79" y="226.60" font-size="2.6" font-family="'Liberation Sans', Arial, sans-serif" fill="#999">150</text>
<text x="182.42" y="226.60" font-size="2.6" font-family="'Liberation Sans', Arial, sans-serif" fill="#999">200</text>
<text x="198.05" y="226.60" font-size="2.6" font-family="'Liberation Sans', Arial, sans-serif" fill="#999">250</text>
<line x1="122.30" y1="149.80" x2="202.50" y2="149.80" stroke="#555" stroke-width="0.8"/>
<text x="125.40" y="147.30" font-size="6.5" font-family="'Liberation Sans', Arial, sans-serif" fill="#111" stroke="#111" stroke-width="0.18" text-anchor="start" textLength="21.70" lengthAdjust="spacingAndGlyphs">Ts1Cje</text>
<g clip-path="url(#cC2)">
<path d="M135.00 224.00 C131.47 221.83 132.67 215.00 132.40 211.00 C132.13 207.00 132.83 202.83 133.40 200.00 C133.97 197.17 135.78 196.83 135.80 194.00 C135.82 191.17 133.67 188.25 133.50 183.00 C133.33 177.75 134.13 166.63 134.80 162.50 C135.47 158.37 136.38 159.35 137.50 158.20 C138.62 157.05 140.08 156.33 141.50 155.60 C142.92 154.87 144.25 154.33 146.00 153.80 C147.75 153.27 150.13 152.75 152.00 152.40 C153.87 152.05 155.20 151.90 157.20 151.70 C159.20 151.50 161.55 151.33 164.00 151.20 C166.45 151.07 169.23 150.97 171.90 150.90 C174.57 150.83 177.08 150.80 180.00 150.80 C182.92 150.80 186.90 150.85 189.40 150.90 C191.90 150.95 193.30 150.97 195.00 151.10 C196.70 151.23 198.37 151.30 199.60 151.70 C200.83 152.10 201.90 152.70 202.40 153.50 C202.90 154.30 202.75 155.42 202.60 156.50 C202.45 157.58 202.13 158.67 201.50 160.00 C200.87 161.33 199.80 163.05 198.80 164.50 C197.80 165.95 196.72 167.40 195.50 168.70 C194.28 170.00 192.92 171.33 191.50 172.30 C190.08 173.27 188.32 173.92 187.00 174.50 C185.68 175.08 185.02 175.28 183.60 175.80 C182.18 176.32 179.97 177.12 178.50 177.60 C177.03 178.08 175.97 178.58 174.80 178.70 C173.63 178.82 172.48 178.48 171.50 178.30 C170.52 178.12 169.98 177.77 168.90 177.60 C167.82 177.43 166.22 177.33 165.00 177.30 C163.78 177.27 162.63 177.25 161.60 177.40 C160.57 177.55 159.43 177.68 158.80 178.20 C158.17 178.72 158.20 179.37 157.80 180.50 C157.40 181.63 156.93 183.42 156.40 185.00 C155.87 186.58 155.13 188.47 154.60 190.00 C154.07 191.53 153.03 192.70 153.20 194.20 C153.37 195.70 154.97 197.03 155.60 199.00 C156.23 200.97 156.83 203.67 157.00 206.00 C157.17 208.33 157.17 210.00 156.60 213.00 C156.03 216.00 157.20 222.17 153.60 224.00 C150.00 225.83 138.53 226.17 135.00 224.00 Z" fill="#fff" stroke="#000" stroke-width="0.85"/>
<path d="M135.40 224.00 C131.99 221.83 133.04 215.00 132.76 211.00 C132.48 207.00 133.14 202.83 133.72 200.00 C134.30 197.17 136.19 196.87 136.24 194.04 C136.29 191.21 134.17 188.17 134.00 183.00 C133.83 177.83 134.60 167.03 135.24 163.00 C135.88 158.97 136.76 159.93 137.84 158.80 C138.92 157.67 140.34 156.95 141.72 156.22 C143.10 155.49 144.40 154.97 146.12 154.44 C147.84 153.91 150.19 153.40 152.04 153.04 C153.89 152.68 155.25 152.51 157.24 152.30 C159.23 152.09 161.56 151.92 164.00 151.78 C166.44 151.64 169.23 151.53 171.90 151.46 C174.57 151.39 177.18 151.36 180.00 151.36 C182.82 151.36 186.48 151.41 188.82 151.48 C191.16 151.55 192.48 151.60 194.04 151.76 C195.60 151.92 197.07 152.03 198.18 152.42 C199.29 152.81 200.23 153.38 200.68 154.12 C201.13 154.86 201.02 155.85 200.88 156.84 C200.74 157.83 200.42 158.83 199.84 160.04 C199.26 161.25 198.31 162.81 197.40 164.12 C196.49 165.43 195.51 166.73 194.40 167.92 C193.29 169.11 192.02 170.33 190.72 171.24 C189.42 172.15 187.82 172.81 186.60 173.40 C185.38 173.99 184.73 174.23 183.38 174.80 C182.03 175.37 179.92 176.28 178.50 176.80 C177.08 177.32 176.00 177.81 174.84 177.94 C173.68 178.07 172.55 177.77 171.56 177.60 C170.57 177.43 169.97 177.08 168.88 176.92 C167.79 176.76 166.22 176.68 165.00 176.66 C163.78 176.64 162.63 176.62 161.56 176.78 C160.49 176.94 159.32 177.08 158.60 177.60 C157.88 178.12 157.71 178.77 157.24 179.88 C156.77 180.99 156.28 182.67 155.76 184.24 C155.24 185.81 154.63 187.65 154.12 189.30 C153.61 190.95 152.51 192.50 152.68 194.12 C152.85 195.74 154.47 197.02 155.12 199.00 C155.77 200.98 156.42 203.67 156.60 206.00 C156.78 208.33 156.76 210.00 156.20 213.00 C155.64 216.00 156.71 222.17 153.24 224.00 C149.77 225.83 138.81 226.17 135.40 224.00 Z" fill="none" stroke="#000" stroke-width="0.55"/>
<path d="M135.80 224.00 C132.51 221.83 133.41 215.00 133.12 211.00 C132.83 207.00 133.45 202.82 134.04 200.00 C134.63 197.18 136.60 196.91 136.68 194.08 C136.76 191.25 134.67 188.10 134.50 183.00 C134.33 177.90 135.07 167.43 135.68 163.50 C136.29 159.57 137.14 160.51 138.18 159.40 C139.22 158.29 140.60 157.56 141.94 156.84 C143.28 156.12 144.55 155.61 146.24 155.08 C147.93 154.55 150.24 154.04 152.08 153.68 C153.92 153.32 155.29 153.12 157.28 152.90 C159.27 152.68 161.56 152.51 164.00 152.36 C166.44 152.21 169.23 152.09 171.90 152.02 C174.57 151.95 177.28 151.91 180.00 151.92 C182.72 151.93 186.06 151.98 188.24 152.06 C190.42 152.14 191.66 152.24 193.08 152.42 C194.50 152.60 195.78 152.75 196.76 153.14 C197.74 153.53 198.56 154.07 198.96 154.74 C199.36 155.41 199.29 156.29 199.16 157.18 C199.03 158.07 198.71 158.99 198.18 160.08 C197.65 161.17 196.81 162.56 196.00 163.74 C195.19 164.92 194.31 166.07 193.30 167.14 C192.29 168.21 191.12 169.32 189.94 170.18 C188.76 171.04 187.33 171.70 186.20 172.30 C185.07 172.90 184.44 173.18 183.16 173.80 C181.88 174.42 179.88 175.44 178.50 176.00 C177.12 176.56 176.03 177.03 174.88 177.18 C173.73 177.33 172.62 177.06 171.62 176.90 C170.62 176.74 169.96 176.39 168.86 176.24 C167.76 176.09 166.22 176.03 165.00 176.02 C163.78 176.01 162.62 176.00 161.52 176.16 C160.42 176.32 159.21 176.48 158.40 177.00 C157.59 177.52 157.23 178.18 156.68 179.26 C156.13 180.34 155.63 181.92 155.12 183.48 C154.61 185.04 154.13 186.84 153.64 188.60 C153.15 190.36 151.99 192.31 152.16 194.04 C152.33 195.77 153.97 197.01 154.64 199.00 C155.31 200.99 156.01 203.67 156.20 206.00 C156.39 208.33 156.35 210.00 155.80 213.00 C155.25 216.00 156.21 222.17 152.88 224.00 C149.55 225.83 139.09 226.17 135.80 224.00 Z" fill="none" stroke="#000" stroke-width="0.55"/>
<path d="M136.20 224.00 C133.03 221.83 133.79 215.00 133.48 211.00 C133.17 207.00 133.75 202.81 134.36 200.00 C134.97 197.19 137.01 196.95 137.12 194.12 C137.23 191.29 135.17 188.02 135.00 183.00 C134.83 177.98 135.53 167.83 136.12 164.00 C136.71 160.17 137.51 161.09 138.52 160.00 C139.53 158.91 140.85 158.17 142.16 157.46 C143.47 156.75 144.70 156.24 146.36 155.72 C148.02 155.20 150.29 154.69 152.12 154.32 C153.95 153.95 155.34 153.73 157.32 153.50 C159.30 153.27 161.57 153.09 164.00 152.94 C166.43 152.79 169.23 152.66 171.90 152.58 C174.57 152.50 177.37 152.47 180.00 152.48 C182.63 152.49 185.64 152.54 187.66 152.64 C189.68 152.74 190.84 152.88 192.12 153.08 C193.40 153.28 194.49 153.48 195.34 153.86 C196.19 154.24 196.89 154.75 197.24 155.36 C197.59 155.97 197.56 156.73 197.44 157.52 C197.32 158.31 196.99 159.15 196.52 160.12 C196.05 161.09 195.32 162.32 194.60 163.36 C193.88 164.40 193.11 165.40 192.20 166.36 C191.29 167.32 190.23 168.31 189.16 169.12 C188.09 169.93 186.84 170.59 185.80 171.20 C184.76 171.81 184.16 172.13 182.94 172.80 C181.72 173.47 179.84 174.60 178.50 175.20 C177.16 175.80 176.06 176.25 174.92 176.42 C173.78 176.59 172.69 176.34 171.68 176.20 C170.67 176.06 169.95 175.70 168.84 175.56 C167.73 175.42 166.23 175.38 165.00 175.38 C163.77 175.38 162.61 175.37 161.48 175.54 C160.35 175.71 159.09 175.88 158.20 176.40 C157.31 176.92 156.74 177.59 156.12 178.64 C155.50 179.69 154.97 181.18 154.48 182.72 C153.99 184.26 153.63 186.03 153.16 187.90 C152.69 189.77 151.47 192.11 151.64 193.96 C151.81 195.81 153.47 196.99 154.16 199.00 C154.85 201.01 155.59 203.67 155.80 206.00 C156.01 208.33 155.95 210.00 155.40 213.00 C154.85 216.00 155.72 222.17 152.52 224.00 C149.32 225.83 139.37 226.17 136.20 224.00 Z" fill="none" stroke="#000" stroke-width="0.55"/>
<path d="M136.60 224.00 C133.55 221.83 134.16 215.00 133.84 211.00 C133.52 207.00 134.06 202.81 134.68 200.00 C135.30 197.19 137.42 196.99 137.56 194.16 C137.70 191.33 135.67 187.94 135.50 183.00 C135.33 178.06 136.00 168.23 136.56 164.50 C137.12 160.77 137.89 161.67 138.86 160.60 C139.83 159.53 141.11 158.79 142.38 158.08 C143.65 157.37 144.85 156.88 146.48 156.36 C148.11 155.84 150.35 155.34 152.16 154.96 C153.97 154.58 155.39 154.34 157.36 154.10 C159.33 153.86 161.58 153.68 164.00 153.52 C166.42 153.36 169.23 153.22 171.90 153.14 C174.57 153.06 177.47 153.03 180.00 153.04 C182.53 153.05 185.22 153.10 187.08 153.22 C188.94 153.34 190.02 153.51 191.16 153.74 C192.30 153.97 193.19 154.21 193.92 154.58 C194.65 154.95 195.22 155.43 195.52 155.98 C195.82 156.53 195.83 157.16 195.72 157.86 C195.61 158.56 195.28 159.31 194.86 160.16 C194.44 161.01 193.83 162.08 193.20 162.98 C192.57 163.88 191.90 164.73 191.10 165.58 C190.30 166.43 189.33 167.31 188.38 168.06 C187.43 168.81 186.34 169.48 185.40 170.10 C184.46 170.72 183.87 171.08 182.72 171.80 C181.57 172.52 179.79 173.76 178.50 174.40 C177.21 175.04 176.09 175.48 174.96 175.66 C173.83 175.84 172.76 175.63 171.74 175.50 C170.72 175.37 169.94 175.01 168.82 174.88 C167.70 174.75 166.23 174.73 165.00 174.74 C163.77 174.75 162.61 174.74 161.44 174.92 C160.27 175.10 158.98 175.28 158.00 175.80 C157.02 176.32 156.25 176.99 155.56 178.02 C154.87 179.05 154.32 180.43 153.84 181.96 C153.36 183.49 153.13 185.21 152.68 187.20 C152.23 189.19 150.95 191.91 151.12 193.88 C151.29 195.85 152.97 196.98 153.68 199.00 C154.39 201.02 155.18 203.67 155.40 206.00 C155.62 208.33 155.54 210.00 155.00 213.00 C154.46 216.00 155.23 222.17 152.16 224.00 C149.09 225.83 139.65 226.17 136.60 224.00 Z" fill="none" stroke="#000" stroke-width="0.55"/>
<path d="M137.00 224.00 C134.07 221.83 134.53 215.00 134.20 211.00 C133.87 207.00 134.37 202.80 135.00 200.00 C135.63 197.20 137.83 197.03 138.00 194.20 C138.17 191.37 136.17 187.87 136.00 183.00 C135.83 178.13 136.47 168.63 137.00 165.00 C137.53 161.37 138.27 162.25 139.20 161.20 C140.13 160.15 141.37 159.40 142.60 158.70 C143.83 158.00 145.00 157.52 146.60 157.00 C148.20 156.48 150.40 155.98 152.20 155.60 C154.00 155.22 155.43 154.95 157.40 154.70 C159.37 154.45 161.58 154.27 164.00 154.10 C166.42 153.93 169.23 153.78 171.90 153.70 C174.57 153.62 177.57 153.58 180.00 153.60 C182.43 153.62 184.80 153.67 186.50 153.80 C188.20 153.93 189.20 154.15 190.20 154.40 C191.20 154.65 191.90 154.93 192.50 155.30 C193.10 155.67 193.55 156.12 193.80 156.60 C194.05 157.08 194.10 157.60 194.00 158.20 C193.90 158.80 193.57 159.47 193.20 160.20 C192.83 160.93 192.33 161.83 191.80 162.60 C191.27 163.37 190.70 164.07 190.00 164.80 C189.30 165.53 188.43 166.30 187.60 167.00 C186.77 167.70 185.85 168.37 185.00 169.00 C184.15 169.63 183.58 170.03 182.50 170.80 C181.42 171.57 179.75 172.92 178.50 173.60 C177.25 174.28 176.12 174.70 175.00 174.90 C173.88 175.10 172.83 174.92 171.80 174.80 C170.77 174.68 169.93 174.32 168.80 174.20 C167.67 174.08 166.23 174.08 165.00 174.10 C163.77 174.12 162.60 174.12 161.40 174.30 C160.20 174.48 158.87 174.68 157.80 175.20 C156.73 175.72 155.77 176.40 155.00 177.40 C154.23 178.40 153.67 179.68 153.20 181.20 C152.73 182.72 152.63 184.40 152.20 186.50 C151.77 188.60 150.43 191.72 150.60 193.80 C150.77 195.88 152.47 196.97 153.20 199.00 C153.93 201.03 154.77 203.67 155.00 206.00 C155.23 208.33 155.13 210.00 154.60 213.00 C154.07 216.00 154.73 222.17 151.80 224.00 C148.87 225.83 139.93 226.17 137.00 224.00 Z" fill="#000" stroke="#000" stroke-width="0.5"/>
</g>
<defs><clipPath id="tC2"><path d="M137.00 224.00 C134.07 221.83 134.53 215.00 134.20 211.00 C133.87 207.00 134.37 202.80 135.00 200.00 C135.63 197.20 137.83 197.03 138.00 194.20 C138.17 191.37 136.17 187.87 136.00 183.00 C135.83 178.13 136.47 168.63 137.00 165.00 C137.53 161.37 138.27 162.25 139.20 161.20 C140.13 160.15 141.37 159.40 142.60 158.70 C143.83 158.00 145.00 157.52 146.60 157.00 C148.20 156.48 150.40 155.98 152.20 155.60 C154.00 155.22 155.43 154.95 157.40 154.70 C159.37 154.45 161.58 154.27 164.00 154.10 C166.42 153.93 169.23 153.78 171.90 153.70 C174.57 153.62 177.57 153.58 180.00 153.60 C182.43 153.62 184.80 153.67 186.50 153.80 C188.20 153.93 189.20 154.15 190.20 154.40 C191.20 154.65 191.90 154.93 192.50 155.30 C193.10 155.67 193.55 156.12 193.80 156.60 C194.05 157.08 194.10 157.60 194.00 158.20 C193.90 158.80 193.57 159.47 193.20 160.20 C192.83 160.93 192.33 161.83 191.80 162.60 C191.27 163.37 190.70 164.07 190.00 164.80 C189.30 165.53 188.43 166.30 187.60 167.00 C186.77 167.70 185.85 168.37 185.00 169.00 C184.15 169.63 183.58 170.03 182.50 170.80 C181.42 171.57 179.75 172.92 178.50 173.60 C177.25 174.28 176.12 174.70 175.00 174.90 C173.88 175.10 172.83 174.92 171.80 174.80 C170.77 174.68 169.93 174.32 168.80 174.20 C167.67 174.08 166.23 174.08 165.00 174.10 C163.77 174.12 162.60 174.12 161.40 174.30 C160.20 174.48 158.87 174.68 157.80 175.20 C156.73 175.72 155.77 176.40 155.00 177.40 C154.23 178.40 153.67 179.68 153.20 181.20 C152.73 182.72 152.63 184.40 152.20 186.50 C151.77 188.60 150.43 191.72 150.60 193.80 C150.77 195.88 152.47 196.97 153.20 199.00 C153.93 201.03 154.77 203.67 155.00 206.00 C155.23 208.33 155.13 210.00 154.60 213.00 C154.07 216.00 154.73 222.17 151.80 224.00 C148.87 225.83 139.93 226.17 137.00 224.00 Z"/></clipPath></defs>
<g clip-path="url(#tC2)" stroke="#fff" stroke-width="0.45" fill="none" opacity="0.9">
<path d="M189.81 161.53 Q190.21 162.50 190.35 162.15"/>
<path d="M151.57 162.07 Q152.80 161.07 152.98 161.27"/>
<path d="M176.49 164.16 Q176.35 164.07 177.11 163.80"/>
<path d="M162.16 158.02 Q162.80 157.58 164.46 156.89"/>
<path d="M165.64 163.67 Q166.40 163.28 166.59 163.12"/>
<path d="M169.56 168.93 Q170.51 168.17 170.57 168.76"/>
<path d="M172.06 168.25 Q172.87 168.52 174.90 169.05"/>
<path d="M156.38 162.85 Q157.31 164.36 158.00 164.67"/>
<path d="M164.29 160.90 Q163.70 160.91 164.42 161.66"/>
<path d="M138.40 181.55 Q138.04 182.66 138.38 184.12"/>
<path d="M150.95 162.46 Q151.72 161.73 151.63 162.18"/>
<path d="M166.71 168.84 Q167.14 168.25 168.28 168.83"/>
<path d="M149.82 202.40 Q151.91 201.71 152.53 202.13"/>
<path d="M156.35 165.22 Q156.36 165.03 157.07 165.97"/>
<path d="M175.61 160.46 Q176.70 162.02 177.29 162.80"/>
<path d="M150.39 213.94 Q150.02 214.05 149.97 215.42"/>
<path d="M137.00 197.55 Q136.95 196.51 138.33 197.06"/>
<path d="M172.54 169.29 Q172.88 169.58 173.63 169.43"/>
<path d="M175.30 162.64 Q176.58 161.68 177.93 161.33"/>
<path d="M154.29 160.80 Q153.74 161.96 154.72 161.68"/>
<path d="M156.16 163.60 Q157.98 163.13 158.64 162.02"/>
<path d="M171.77 168.72 Q172.71 168.77 173.64 168.39"/>
<path d="M183.86 167.46 Q184.51 166.96 185.62 167.98"/>
<path d="M155.17 173.53 Q156.03 174.50 155.90 174.75"/>
<path d="M190.11 161.10 Q190.14 161.13 191.12 160.75"/>
<path d="M148.03 179.85 Q149.71 180.69 150.07 180.62"/>
<path d="M170.08 158.50 Q172.02 158.76 172.45 159.36"/>
<path d="M147.89 197.95 Q148.22 198.18 148.26 198.51"/>
<path d="M175.69 164.34 Q175.86 164.05 175.88 165.30"/>
<path d="M149.11 189.68 Q148.97 190.53 149.75 192.18"/>
<path d="M171.05 166.69 Q171.62 166.81 173.59 166.15"/>
<path d="M146.60 214.75 Q146.21 215.53 147.01 217.42"/>
<path d="M157.07 184.18 Q156.52 184.85 157.11 185.14"/>
<path d="M149.80 168.41 Q150.41 168.53 152.28 168.46"/>
<path d="M158.03 156.59 Q158.96 155.74 158.63 156.28"/>
<path d="M175.73 163.08 Q175.91 163.88 175.99 164.74"/>
<path d="M179.37 168.27 Q180.91 169.31 181.04 169.25"/>
<path d="M167.50 161.49 Q167.35 161.93 168.12 163.00"/>
<path d="M157.63 162.41 Q158.20 163.62 157.55 163.35"/>
<path d="M181.36 157.32 Q181.90 158.14 183.33 158.30"/>
<path d="M141.43 200.50 Q141.63 200.71 141.67 201.10"/>
<path d="M145.84 175.11 Q146.69 175.07 146.19 175.91"/>
<path d="M138.93 166.52 Q140.51 167.64 141.07 167.65"/>
<path d="M167.05 163.51 Q167.39 164.00 168.43 163.54"/>
<path d="M167.86 157.01 Q166.76 158.77 166.99 159.38"/>
<path d="M143.08 161.26 Q144.30 162.04 144.18 162.42"/>
<path d="M149.12 165.35 Q148.96 164.88 149.76 165.02"/>
<path d="M172.31 158.88 Q172.94 160.28 172.60 160.10"/>
<path d="M137.35 182.66 Q138.92 182.08 139.09 182.76"/>
<path d="M146.50 208.56 Q145.85 208.76 146.11 209.84"/>
<path d="M184.96 165.89 Q184.95 165.42 186.37 166.13"/>
<path d="M151.39 187.79 Q152.29 187.71 153.57 187.61"/>
<path d="M175.15 165.70 Q174.89 165.16 176.21 165.05"/>
<path d="M190.85 163.66 Q190.93 163.46 191.47 164.85"/>
<path d="M137.34 202.42 Q137.90 203.15 139.76 202.87"/>
<path d="M166.78 156.58 Q167.40 156.32 167.75 155.96"/>
<path d="M177.62 166.02 Q179.01 165.77 178.86 166.63"/>
<path d="M151.84 167.69 Q151.99 168.24 151.14 169.95"/>
<path d="M156.01 177.44 Q155.24 177.77 155.34 179.60"/>
<path d="M176.76 169.43 Q176.35 169.43 177.47 169.33"/>
<path d="M170.55 156.05 Q170.44 157.19 170.22 157.82"/>
<path d="M154.15 173.59 Q154.45 173.72 153.92 174.73"/>
<path d="M143.90 204.80 Q144.33 206.22 144.38 207.19"/>
<path d="M150.79 168.61 Q150.20 169.63 150.77 170.70"/>
<path d="M140.30 211.46 Q140.29 212.05 140.22 212.75"/>
<path d="M148.27 218.85 Q148.63 218.53 149.08 218.89"/>
<path d="M155.86 190.88 Q157.12 190.39 156.96 190.82"/>
<path d="M140.26 175.34 Q141.37 176.63 142.46 176.67"/>
<path d="M159.72 168.57 Q160.01 168.48 160.33 168.56"/>
<path d="M180.54 161.83 Q180.95 161.46 181.92 161.62"/>
<path d="M137.92 217.31 Q137.66 217.78 137.81 218.60"/>
<path d="M145.30 171.98 Q146.24 171.53 146.11 171.76"/>
<path d="M160.47 159.72 Q161.95 160.34 161.97 159.74"/>
<path d="M150.61 217.64 Q151.03 217.91 150.69 218.35"/>
<path d="M177.07 160.01 Q177.32 160.10 177.66 160.69"/>
<path d="M160.74 166.34 Q161.29 166.72 161.89 166.56"/>
<path d="M140.85 162.66 Q140.85 164.09 141.74 164.21"/>
<path d="M142.84 208.60 Q143.47 208.10 144.68 208.01"/>
<path d="M187.26 166.50 Q187.99 166.14 189.11 166.30"/>
<path d="M148.46 177.10 Q149.23 178.54 149.08 178.86"/>
<path d="M143.23 165.70 Q145.23 166.12 146.10 165.35"/>
<path d="M139.93 171.88 Q139.70 172.65 139.50 174.77"/>
<path d="M151.56 201.71 Q152.67 202.00 153.21 200.88"/>
<path d="M137.36 213.87 Q137.43 213.66 138.98 212.76"/>
<path d="M176.31 163.40 Q176.09 164.51 176.52 164.21"/>
<path d="M166.30 159.13 Q166.89 159.94 167.61 159.29"/>
<path d="M169.96 159.29 Q170.18 159.54 171.01 161.32"/>
<path d="M150.16 210.88 Q150.66 210.48 151.58 210.11"/>
<path d="M180.17 161.07 Q181.37 160.30 181.46 160.91"/>
<path d="M151.52 203.17 Q152.46 203.05 152.57 203.59"/>
<path d="M145.76 216.62 Q145.98 217.66 145.90 217.34"/>
<path d="M141.90 191.09 Q142.07 191.58 142.57 190.78"/>
<path d="M180.77 169.97 Q181.93 170.62 181.68 170.48"/>
<path d="M144.17 182.39 Q143.35 182.52 143.78 184.00"/>
<path d="M145.08 190.44 Q145.17 191.40 145.72 191.33"/>
<path d="M137.40 212.22 Q137.90 212.30 138.97 211.62"/>
<path d="M136.48 205.45 Q135.67 205.09 136.34 206.13"/>
<path d="M142.91 183.16 Q144.20 183.63 144.02 183.73"/>
<path d="M181.35 165.65 Q182.52 166.71 183.39 166.79"/>
<path d="M137.56 165.19 Q137.66 166.20 138.13 168.02"/>
<path d="M149.04 199.05 Q150.14 199.35 151.87 199.04"/>
<path d="M175.50 160.59 Q176.04 159.84 177.92 160.06"/>
<path d="M160.39 156.91 Q161.74 157.15 161.56 156.17"/>
<path d="M143.09 159.94 Q144.03 158.98 145.13 158.87"/>
<path d="M143.37 216.50 Q144.96 216.56 145.71 215.73"/>
<path d="M162.34 163.94 Q162.11 164.04 162.68 164.96"/>
<path d="M161.82 168.71 Q161.97 168.53 162.94 168.27"/>
<path d="M152.03 191.68 Q153.71 191.76 154.31 190.50"/>
<path d="M157.17 165.15 Q157.52 165.45 158.86 167.11"/>
<path d="M168.86 159.64 Q168.95 160.25 168.72 160.48"/>
</g>
<path d="M186 157.5 C190 157 194 157.2 196.4 158" fill="none" stroke="#fff" stroke-width="0.45"/>
<path d="M180 162 C184 160.5 188 160 192 160.6 C193.6 161 194.6 161.8 195 162.6" fill="none" stroke="#fff" stroke-width="0.5"/>
<path d="M181 165.2 C184 164 187 163.6 190.5 164" fill="none" stroke="#fff" stroke-width="0.5"/>
<path d="M183.5 167.6 C185.5 167 187.5 166.8 189.5 167.1" fill="none" stroke="#fff" stroke-width="0.45"/>
<path d="M146 163.5 L150 162.3 L147.5 165.5 L151.5 164.5" fill="none" stroke="#fff" stroke-width="0.55"/>
<path d="M164 166.5 C167 165.5 170 165 173 165.3" fill="none" stroke="#fff" stroke-width="0.5"/>
<path d="M158 164 C160 163.3 162 163.1 164 163.4" fill="none" stroke="#fff" stroke-width="0.4"/>
<path d="M150.6 194.5 C147 193 143 192.8 139 193.8" fill="none" stroke="#fff" stroke-width="0.5"/>
<path d="M151 196.2 C146 195.2 142 195.2 138.5 196.3" fill="none" stroke="#fff" stroke-width="0.35"/>
<rect x="127.60" y="150.40" width="33.90" height="44.00" fill="none" stroke="#666" stroke-width="0.8"/>
<line x1="122.30" y1="138.70" x2="122.30" y2="150.00" stroke="#555" stroke-width="0.8"/>
<rect x="161.50" y="150.60" width="41.00" height="41.20" fill="none" stroke="#666" stroke-width="0.8"/>
<rect x="127.60" y="194.40" width="33.90" height="26.00" fill="none" stroke="#666" stroke-width="0.8"/>
<rect x="161.50" y="191.80" width="41.00" height="28.60" fill="none" stroke="#666" stroke-width="0.8"/>
<rect x="141.00" y="170.30" width="8.00" height="4.70" fill="#fff" stroke="none" stroke-width="1"/>
<text x="141.80" y="174.00" font-size="2.60" font-family="'Liberation Sans', Arial, sans-serif" fill="#888" textLength="6.40" lengthAdjust="spacingAndGlyphs">44.2</text>
<rect x="179.90" y="169.20" width="4.40" height="4.80" fill="#fff" stroke="none" stroke-width="1"/>
<text x="180.70" y="173.00" font-size="2.60" font-family="'Liberation Sans', Arial, sans-serif" fill="#888" textLength="2.80" lengthAdjust="spacingAndGlyphs">44.2</text>
<rect x="141.00" y="205.90" width="7.50" height="3.80" fill="#fff" stroke="none" stroke-width="1"/>
<text x="141.80" y="208.70" font-size="2.60" font-family="'Liberation Sans', Arial, sans-serif" fill="#888" textLength="5.90" lengthAdjust="spacingAndGlyphs">44.2</text>
<circle cx="148" cy="165" r="0.6" fill="#fff"/><circle cx="170" cy="162" r="0.6" fill="#fff"/><circle cx="162" cy="168" r="0.5" fill="#ddd"/><circle cx="140" cy="184" r="0.5" fill="#ddd"/><circle cx="145" cy="178" r="0.5" fill="#ddd"/>
<text x="131.50" y="156.20" font-size="6.5" font-family="'Liberation Sans', Arial, sans-serif" fill="#111" stroke="#111" stroke-width="0.18" text-anchor="start" textLength="14.00" lengthAdjust="spacingAndGlyphs">EryB</text>
<text x="185.50" y="190.40" font-size="6.5" font-family="'Liberation Sans', Arial, sans-serif" fill="#111" stroke="#111" stroke-width="0.18" text-anchor="start" textLength="15.50" lengthAdjust="spacingAndGlyphs">EryA</text>
<text x="168.60" y="215.50" font-size="6.5" font-family="'Liberation Sans', Arial, sans-serif" fill="#111" stroke="#111" stroke-width="0.18" text-anchor="start" textLength="15.60" lengthAdjust="spacingAndGlyphs">EryC</text>
<line x1="120.60" y1="138.20" x2="120.60" y2="221.00" stroke="#000" stroke-width="1.2"/>
<line x1="120.00" y1="220.40" x2="202.90" y2="220.40" stroke="#000" stroke-width="1.3"/>
<text x="113.60" y="172.30" font-size="7.8" font-family="'Liberation Sans', Arial, sans-serif" fill="#111" stroke="#111" stroke-width="0.15" text-anchor="start" textLength="19.80" lengthAdjust="spacingAndGlyphs" transform="rotate(-90 113.60 172.30)">CD71</text>
<line x1="109.70" y1="211.30" x2="109.70" y2="181.00" stroke="#111" stroke-width="1.0"/>
<path d="M108.30 183.50 L109.70 178.00 L111.10 183.50 Z" fill="#111" stroke="none" stroke-width="1"/>
<text x="178.70" y="234.70" font-size="8.6" font-family="'Liberation Sans', Arial, sans-serif" fill="#111" stroke="#111" stroke-width="0.15" text-anchor="start" textLength="15.80" lengthAdjust="spacingAndGlyphs">FSC</text>
<line x1="128.90" y1="233.10" x2="165.80" y2="233.10" stroke="#111" stroke-width="1.0"/>
<path d="M162.30 231.60 L168.80 233.10 L162.30 234.60 Z" fill="#111" stroke="none" stroke-width="1"/>
<line x1="236.40" y1="17.40" x2="236.40" y2="105.20" stroke="#222" stroke-width="1.1"/>
<line x1="235.90" y1="104.70" x2="364.00" y2="104.70" stroke="#222" stroke-width="1.1"/>
<line x1="234.40" y1="104.70" x2="236.40" y2="104.70" stroke="#222" stroke-width="0.9"/>
<text x="234.40" y="106.79" font-size="5.8" font-family="'Liberation Sans', Arial, sans-serif" font-weight="bold" fill="#222" stroke="#222" stroke-width="0.18" text-anchor="end">0</text>
<line x1="234.40" y1="82.95" x2="236.40" y2="82.95" stroke="#222" stroke-width="0.9"/>
<text x="234.40" y="85.04" font-size="5.8" font-family="'Liberation Sans', Arial, sans-serif" font-weight="bold" fill="#222" stroke="#222" stroke-width="0.18" text-anchor="end">20</text>
<line x1="234.40" y1="61.20" x2="236.40" y2="61.20" stroke="#222" stroke-width="0.9"/>
<text x="234.40" y="63.29" font-size="5.8" font-family="'Liberation Sans', Arial, sans-serif" font-weight="bold" fill="#222" stroke="#222" stroke-width="0.18" text-anchor="end">40</text>
<line x1="234.40" y1="39.45" x2="236.40" y2="39.45" stroke="#222" stroke-width="0.9"/>
<text x="234.40" y="41.54" font-size="5.8" font-family="'Liberation Sans', Arial, sans-serif" font-weight="bold" fill="#222" stroke="#222" stroke-width="0.18" text-anchor="end">60</text>
<line x1="234.40" y1="17.70" x2="236.40" y2="17.70" stroke="#222" stroke-width="0.9"/>
<text x="234.40" y="19.79" font-size="5.8" font-family="'Liberation Sans', Arial, sans-serif" font-weight="bold" fill="#222" stroke="#222" stroke-width="0.18" text-anchor="end">80</text>
<rect x="239.70" y="103.40" width="11.90" height="1.30" fill="#000" stroke="none" stroke-width="1"/>
<line x1="245.65" y1="102.60" x2="245.65" y2="103.40" stroke="#000" stroke-width="1"/>
<line x1="242.08" y1="102.60" x2="249.22" y2="102.60" stroke="#000" stroke-width="1"/>
<rect x="254.30" y="102.90" width="9.60" height="1.80" fill="#fff" stroke="#222" stroke-width="0.95"/>
<line x1="259.10" y1="101.80" x2="259.10" y2="103.20" stroke="#222" stroke-width="1"/>
<line x1="255.92" y1="101.80" x2="262.28" y2="101.80" stroke="#222" stroke-width="1"/>
<line x1="255.92" y1="103.20" x2="262.28" y2="103.20" stroke="#222" stroke-width="1"/>
<rect x="272.20" y="59.00" width="10.80" height="45.70" fill="#000" stroke="none" stroke-width="1"/>
<line x1="277.60" y1="56.60" x2="277.60" y2="59.00" stroke="#000" stroke-width="1"/>
<line x1="274.36" y1="56.60" x2="280.84" y2="56.60" stroke="#000" stroke-width="1"/>
<rect x="285.50" y="27.70" width="9.80" height="77.00" fill="#fff" stroke="#222" stroke-width="0.95"/>
<line x1="290.40" y1="25.60" x2="290.40" y2="29.40" stroke="#222" stroke-width="1"/>
<line x1="287.16" y1="25.60" x2="293.64" y2="25.60" stroke="#222" stroke-width="1"/>
<line x1="287.16" y1="29.40" x2="293.64" y2="29.40" stroke="#222" stroke-width="1"/>
<text x="287.40" y="25.30" font-size="7.6" font-family="'Liberation Sans', Arial, sans-serif" fill="#222" stroke="#222" stroke-width="0.2" text-anchor="middle">*</text>
<text x="290.40" y="25.30" font-size="7.6" font-family="'Liberation Sans', Arial, sans-serif" fill="#222" stroke="#222" stroke-width="0.2" text-anchor="middle">*</text>
<text x="293.40" y="25.30" font-size="7.6" font-family="'Liberation Sans', Arial, sans-serif" fill="#222" stroke="#222" stroke-width="0.2" text-anchor="middle">*</text>
<rect x="304.00" y="85.50" width="10.60" height="19.20" fill="#000" stroke="none" stroke-width="1"/>
<line x1="309.30" y1="84.20" x2="309.30" y2="85.50" stroke="#000" stroke-width="1"/>
<line x1="306.12" y1="84.20" x2="312.48" y2="84.20" stroke="#000" stroke-width="1"/>
<rect x="316.90" y="96.50" width="10.30" height="8.20" fill="#fff" stroke="#222" stroke-width="0.95"/>
<line x1="322.05" y1="94.80" x2="322.05" y2="97.20" stroke="#222" stroke-width="1"/>
<line x1="318.66" y1="94.80" x2="325.44" y2="94.80" stroke="#222" stroke-width="1"/>
<line x1="318.66" y1="97.20" x2="325.44" y2="97.20" stroke="#222" stroke-width="1"/>
<text x="320.55" y="96.40" font-size="7.6" font-family="'Liberation Sans', Arial, sans-serif" fill="#222" stroke="#222" stroke-width="0.2" text-anchor="middle">*</text>
<text x="323.55" y="96.40" font-size="7.6" font-family="'Liberation Sans', Arial, sans-serif" fill="#222" stroke="#222" stroke-width="0.2" text-anchor="middle">*</text>
<rect x="335.90" y="62.20" width="10.60" height="42.50" fill="#000" stroke="none" stroke-width="1"/>
<line x1="341.20" y1="58.60" x2="341.20" y2="62.20" stroke="#000" stroke-width="1"/>
<line x1="338.02" y1="58.60" x2="344.38" y2="58.60" stroke="#000" stroke-width="1"/>
<rect x="348.80" y="84.50" width="10.30" height="20.20" fill="#fff" stroke="#222" stroke-width="0.95"/>
<line x1="353.95" y1="82.60" x2="353.95" y2="85.40" stroke="#222" stroke-width="1"/>
<line x1="350.56" y1="82.60" x2="357.34" y2="82.60" stroke="#222" stroke-width="1"/>
<line x1="350.56" y1="85.40" x2="357.34" y2="85.40" stroke="#222" stroke-width="1"/>
<text x="352.45" y="82.70" font-size="7.6" font-family="'Liberation Sans', Arial, sans-serif" fill="#222" stroke="#222" stroke-width="0.2" text-anchor="middle">*</text>
<text x="355.45" y="82.70" font-size="7.6" font-family="'Liberation Sans', Arial, sans-serif" fill="#222" stroke="#222" stroke-width="0.2" text-anchor="middle">*</text>
<line x1="252.60" y1="104.70" x2="252.60" y2="106.70" stroke="#222" stroke-width="0.9"/>
<line x1="284.00" y1="104.70" x2="284.00" y2="106.70" stroke="#222" stroke-width="0.9"/>
<line x1="315.50" y1="104.70" x2="315.50" y2="106.70" stroke="#222" stroke-width="0.9"/>
<line x1="347.40" y1="104.70" x2="347.40" y2="106.70" stroke="#222" stroke-width="0.9"/>
<text x="242.80" y="114.20" font-size="6.7" font-family="'Liberation Sans', Arial, sans-serif" fill="#222" stroke="#222" stroke-width="0.18" text-anchor="start" textLength="6.20" lengthAdjust="spacingAndGlyphs">RI</text>
<text x="279.00" y="114.20" font-size="6.7" font-family="'Liberation Sans', Arial, sans-serif" fill="#222" stroke="#222" stroke-width="0.18" text-anchor="start" textLength="7.50" lengthAdjust="spacingAndGlyphs">RII</text>
<text x="313.70" y="114.20" font-size="6.7" font-family="'Liberation Sans', Arial, sans-serif" fill="#222" stroke="#222" stroke-width="0.18" text-anchor="start" textLength="10.60" lengthAdjust="spacingAndGlyphs">RIII</text>
<text x="349.60" y="114.20" font-size="6.7" font-family="'Liberation Sans', Arial, sans-serif" fill="#222" stroke="#222" stroke-width="0.18" text-anchor="start" textLength="10.00" lengthAdjust="spacingAndGlyphs">RIV</text>
<text x="265.00" y="121.80" font-size="6.5" font-family="'Liberation Sans', Arial, sans-serif" fill="#222" stroke="#222" stroke-width="0.18" text-anchor="start" textLength="66.80" lengthAdjust="spacingAndGlyphs">Erythroblast population</text>
<text x="240.80" y="15.60" font-size="7.1" font-family="'Liberation Sans', Arial, sans-serif" fill="#222" stroke="#222" stroke-width="0.18" text-anchor="start" textLength="124.20" lengthAdjust="spacingAndGlyphs">Erythrocyte maturation in bone marrow</text>
<text x="223.20" y="100.60" font-size="6.6" font-family="'Liberation Sans', Arial, sans-serif" fill="#222" stroke="#222" stroke-width="0.18" text-anchor="start" textLength="78.10" lengthAdjust="spacingAndGlyphs" transform="rotate(-90 223.20 100.60)">Proportion of Ter119+ cells</text>
<line x1="388.40" y1="14.90" x2="388.40" y2="105.50" stroke="#222" stroke-width="1.1"/>
<line x1="387.90" y1="105.00" x2="517.50" y2="105.00" stroke="#222" stroke-width="1.1"/>
<line x1="386.40" y1="105.00" x2="388.40" y2="105.00" stroke="#222" stroke-width="0.9"/>
<text x="386.40" y="107.09" font-size="5.8" font-family="'Liberation Sans', Arial, sans-serif" font-weight="bold" fill="#222" stroke="#222" stroke-width="0.18" text-anchor="end">0</text>
<line x1="386.40" y1="82.55" x2="388.40" y2="82.55" stroke="#222" stroke-width="0.9"/>
<text x="386.40" y="84.64" font-size="5.8" font-family="'Liberation Sans', Arial, sans-serif" font-weight="bold" fill="#222" stroke="#222" stroke-width="0.18" text-anchor="end">20</text>
<line x1="386.40" y1="60.10" x2="388.40" y2="60.10" stroke="#222" stroke-width="0.9"/>
<text x="386.40" y="62.19" font-size="5.8" font-family="'Liberation Sans', Arial, sans-serif" font-weight="bold" fill="#222" stroke="#222" stroke-width="0.18" text-anchor="end">40</text>
<line x1="386.40" y1="37.65" x2="388.40" y2="37.65" stroke="#222" stroke-width="0.9"/>
<text x="386.40" y="39.74" font-size="5.8" font-family="'Liberation Sans', Arial, sans-serif" font-weight="bold" fill="#222" stroke="#222" stroke-width="0.18" text-anchor="end">60</text>
<line x1="386.40" y1="15.20" x2="388.40" y2="15.20" stroke="#222" stroke-width="0.9"/>
<text x="386.40" y="17.29" font-size="5.8" font-family="'Liberation Sans', Arial, sans-serif" font-weight="bold" fill="#222" stroke="#222" stroke-width="0.18" text-anchor="end">80</text>
<rect x="392.20" y="104.40" width="11.70" height="0.60" fill="#000" stroke="none" stroke-width="1"/>
<line x1="398.05" y1="103.90" x2="398.05" y2="104.40" stroke="#000" stroke-width="1"/>
<line x1="394.54" y1="103.90" x2="401.56" y2="103.90" stroke="#000" stroke-width="1"/>
<rect x="406.90" y="104.90" width="10.20" height="0.10" fill="#fff" stroke="#222" stroke-width="0.95"/>
<line x1="412.00" y1="103.90" x2="412.00" y2="104.40" stroke="#222" stroke-width="1"/>
<line x1="408.64" y1="103.90" x2="415.36" y2="103.90" stroke="#222" stroke-width="1"/>
<line x1="408.64" y1="104.40" x2="415.36" y2="104.40" stroke="#222" stroke-width="1"/>
<rect x="425.40" y="85.10" width="11.30" height="19.90" fill="#000" stroke="none" stroke-width="1"/>
<line x1="431.05" y1="83.40" x2="431.05" y2="85.10" stroke="#000" stroke-width="1"/>
<line x1="427.66" y1="83.40" x2="434.44" y2="83.40" stroke="#000" stroke-width="1"/>
<rect x="438.70" y="75.80" width="10.80" height="29.20" fill="#fff" stroke="#222" stroke-width="0.95"/>
<line x1="444.10" y1="73.30" x2="444.10" y2="77.30" stroke="#222" stroke-width="1"/>
<line x1="440.56" y1="73.30" x2="447.64" y2="73.30" stroke="#222" stroke-width="1"/>
<line x1="440.56" y1="77.30" x2="447.64" y2="77.30" stroke="#222" stroke-width="1"/>
<text x="444.10" y="74.20" font-size="7.6" font-family="'Liberation Sans', Arial, sans-serif" fill="#222" stroke="#222" stroke-width="0.2" text-anchor="middle">*</text>
<rect x="458.20" y="85.10" width="12.30" height="19.90" fill="#000" stroke="none" stroke-width="1"/>
<line x1="464.35" y1="83.50" x2="464.35" y2="85.10" stroke="#000" stroke-width="1"/>
<line x1="460.66" y1="83.50" x2="468.04" y2="83.50" stroke="#000" stroke-width="1"/>
<rect x="472.10" y="79.30" width="9.90" height="25.70" fill="#fff" stroke="#222" stroke-width="0.95"/>
<line x1="477.05" y1="77.80" x2="477.05" y2="80.00" stroke="#222" stroke-width="1"/>
<line x1="473.78" y1="77.80" x2="480.32" y2="77.80" stroke="#222" stroke-width="1"/>
<line x1="473.78" y1="80.00" x2="480.32" y2="80.00" stroke="#222" stroke-width="1"/>
<text x="477.05" y="76.90" font-size="7.6" font-family="'Liberation Sans', Arial, sans-serif" fill="#222" stroke="#222" stroke-width="0.2" text-anchor="middle">*</text>
<rect x="491.20" y="32.60" width="11.10" height="72.40" fill="#000" stroke="none" stroke-width="1"/>
<line x1="496.75" y1="29.60" x2="496.75" y2="32.60" stroke="#000" stroke-width="1"/>
<line x1="493.42" y1="29.60" x2="500.08" y2="29.60" stroke="#000" stroke-width="1"/>
<rect x="504.50" y="49.00" width="11.00" height="56.00" fill="#fff" stroke="#222" stroke-width="0.95"/>
<line x1="510.00" y1="46.80" x2="510.00" y2="50.20" stroke="#222" stroke-width="1"/>
<line x1="506.40" y1="46.80" x2="513.60" y2="46.80" stroke="#222" stroke-width="1"/>
<line x1="506.40" y1="50.20" x2="513.60" y2="50.20" stroke="#222" stroke-width="1"/>
<text x="508.50" y="46.30" font-size="7.6" font-family="'Liberation Sans', Arial, sans-serif" fill="#222" stroke="#222" stroke-width="0.2" text-anchor="middle">*</text>
<text x="511.50" y="46.30" font-size="7.6" font-family="'Liberation Sans', Arial, sans-serif" fill="#222" stroke="#222" stroke-width="0.2" text-anchor="middle">*</text>
<line x1="405.00" y1="105.00" x2="405.00" y2="107.00" stroke="#222" stroke-width="0.9"/>
<line x1="437.30" y1="105.00" x2="437.30" y2="107.00" stroke="#222" stroke-width="0.9"/>
<line x1="470.90" y1="105.00" x2="470.90" y2="107.00" stroke="#222" stroke-width="0.9"/>
<line x1="503.60" y1="105.00" x2="503.60" y2="107.00" stroke="#222" stroke-width="0.9"/>
<text x="397.00" y="114.60" font-size="6.7" font-family="'Liberation Sans', Arial, sans-serif" fill="#222" stroke="#222" stroke-width="0.18" text-anchor="start" textLength="6.00" lengthAdjust="spacingAndGlyphs">RI</text>
<text x="436.80" y="114.60" font-size="6.7" font-family="'Liberation Sans', Arial, sans-serif" fill="#222" stroke="#222" stroke-width="0.18" text-anchor="start" textLength="6.30" lengthAdjust="spacingAndGlyphs">RII</text>
<text x="469.10" y="114.60" font-size="6.7" font-family="'Liberation Sans', Arial, sans-serif" fill="#222" stroke="#222" stroke-width="0.18" text-anchor="start" textLength="9.60" lengthAdjust="spacingAndGlyphs">RIII</text>
<text x="505.20" y="114.60" font-size="6.7" font-family="'Liberation Sans', Arial, sans-serif" fill="#222" stroke="#222" stroke-width="0.18" text-anchor="start" textLength="8.20" lengthAdjust="spacingAndGlyphs">RIV</text>
<text x="420.90" y="121.90" font-size="6.5" font-family="'Liberation Sans', Arial, sans-serif" fill="#222" stroke="#222" stroke-width="0.18" text-anchor="start" textLength="66.50" lengthAdjust="spacingAndGlyphs">Erythroblast population</text>
<text x="399.80" y="16.80" font-size="7.1" font-family="'Liberation Sans', Arial, sans-serif" fill="#222" stroke="#222" stroke-width="0.18" text-anchor="start" textLength="102.40" lengthAdjust="spacingAndGlyphs">Erythrocyte maturation in spleen</text>
<text x="374.80" y="105.60" font-size="6.6" font-family="'Liberation Sans', Arial, sans-serif" fill="#222" stroke="#222" stroke-width="0.18" text-anchor="start" textLength="83.70" lengthAdjust="spacingAndGlyphs" transform="rotate(-90 374.80 105.60)">Proportion of Ter119+ cells</text>
<line x1="239.70" y1="142.20" x2="239.70" y2="230.00" stroke="#222" stroke-width="1.1"/>
<line x1="239.20" y1="229.50" x2="355.00" y2="229.50" stroke="#222" stroke-width="1.1"/>
<line x1="237.70" y1="229.50" x2="239.70" y2="229.50" stroke="#222" stroke-width="0.9"/>
<text x="237.70" y="231.59" font-size="5.8" font-family="'Liberation Sans', Arial, sans-serif" font-weight="bold" fill="#222" stroke="#222" stroke-width="0.18" text-anchor="end">0</text>
<line x1="237.70" y1="212.10" x2="239.70" y2="212.10" stroke="#222" stroke-width="0.9"/>
<text x="237.70" y="214.19" font-size="5.8" font-family="'Liberation Sans', Arial, sans-serif" font-weight="bold" fill="#222" stroke="#222" stroke-width="0.18" text-anchor="end">10</text>
<line x1="237.70" y1="194.70" x2="239.70" y2="194.70" stroke="#222" stroke-width="0.9"/>
<text x="237.70" y="196.79" font-size="5.8" font-family="'Liberation Sans', Arial, sans-serif" font-weight="bold" fill="#222" stroke="#222" stroke-width="0.18" text-anchor="end">20</text>
<line x1="237.70" y1="177.30" x2="239.70" y2="177.30" stroke="#222" stroke-width="0.9"/>
<text x="237.70" y="179.39" font-size="5.8" font-family="'Liberation Sans', Arial, sans-serif" font-weight="bold" fill="#222" stroke="#222" stroke-width="0.18" text-anchor="end">30</text>
<line x1="237.70" y1="159.90" x2="239.70" y2="159.90" stroke="#222" stroke-width="0.9"/>
<text x="237.70" y="161.99" font-size="5.8" font-family="'Liberation Sans', Arial, sans-serif" font-weight="bold" fill="#222" stroke="#222" stroke-width="0.18" text-anchor="end">40</text>
<line x1="237.70" y1="142.50" x2="239.70" y2="142.50" stroke="#222" stroke-width="0.9"/>
<text x="237.70" y="144.59" font-size="5.8" font-family="'Liberation Sans', Arial, sans-serif" font-weight="bold" fill="#222" stroke="#222" stroke-width="0.18" text-anchor="end">50</text>
<rect x="245.20" y="174.20" width="12.30" height="55.30" fill="#000" stroke="none" stroke-width="1"/>
<line x1="251.35" y1="169.80" x2="251.35" y2="174.20" stroke="#000" stroke-width="1"/>
<line x1="247.66" y1="169.80" x2="255.04" y2="169.80" stroke="#000" stroke-width="1"/>
<rect x="260.80" y="153.60" width="12.00" height="75.90" fill="#fff" stroke="#222" stroke-width="0.95"/>
<line x1="266.80" y1="149.70" x2="266.80" y2="157.00" stroke="#222" stroke-width="1"/>
<line x1="262.90" y1="149.70" x2="270.70" y2="149.70" stroke="#222" stroke-width="1"/>
<line x1="262.90" y1="157.00" x2="270.70" y2="157.00" stroke="#222" stroke-width="1"/>
<text x="266.80" y="148.60" font-size="7.6" font-family="'Liberation Sans', Arial, sans-serif" fill="#222" stroke="#222" stroke-width="0.2" text-anchor="middle">*</text>
<rect x="283.20" y="177.10" width="13.40" height="52.40" fill="#000" stroke="none" stroke-width="1"/>
<line x1="289.90" y1="176.60" x2="289.90" y2="177.10" stroke="#000" stroke-width="1"/>
<line x1="285.88" y1="176.60" x2="293.92" y2="176.60" stroke="#000" stroke-width="1"/>
<rect x="298.90" y="163.90" width="12.50" height="65.60" fill="#fff" stroke="#222" stroke-width="0.95"/>
<line x1="305.15" y1="161.20" x2="305.15" y2="166.10" stroke="#222" stroke-width="1"/>
<line x1="301.10" y1="161.20" x2="309.20" y2="161.20" stroke="#222" stroke-width="1"/>
<line x1="301.10" y1="166.10" x2="309.20" y2="166.10" stroke="#222" stroke-width="1"/>
<text x="303.65" y="158.20" font-size="7.6" font-family="'Liberation Sans', Arial, sans-serif" fill="#222" stroke="#222" stroke-width="0.2" text-anchor="middle">*</text>
<text x="306.65" y="158.20" font-size="7.6" font-family="'Liberation Sans', Arial, sans-serif" fill="#222" stroke="#222" stroke-width="0.2" text-anchor="middle">*</text>
<rect x="321.00" y="164.80" width="13.70" height="64.70" fill="#000" stroke="none" stroke-width="1"/>
<line x1="327.85" y1="158.80" x2="327.85" y2="164.80" stroke="#000" stroke-width="1"/>
<line x1="323.74" y1="158.80" x2="331.96" y2="158.80" stroke="#000" stroke-width="1"/>
<rect x="336.70" y="198.40" width="12.70" height="31.10" fill="#fff" stroke="#222" stroke-width="0.95"/>
<line x1="343.05" y1="196.00" x2="343.05" y2="200.10" stroke="#222" stroke-width="1"/>
<line x1="338.94" y1="196.00" x2="347.16" y2="196.00" stroke="#222" stroke-width="1"/>
<line x1="338.94" y1="200.10" x2="347.16" y2="200.10" stroke="#222" stroke-width="1"/>
<text x="341.55" y="194.60" font-size="7.6" font-family="'Liberation Sans', Arial, sans-serif" fill="#222" stroke="#222" stroke-width="0.2" text-anchor="middle">*</text>
<text x="344.55" y="194.60" font-size="7.6" font-family="'Liberation Sans', Arial, sans-serif" fill="#222" stroke="#222" stroke-width="0.2" text-anchor="middle">*</text>
<line x1="258.90" y1="229.50" x2="258.90" y2="231.50" stroke="#222" stroke-width="0.9"/>
<line x1="297.50" y1="229.50" x2="297.50" y2="231.50" stroke="#222" stroke-width="0.9"/>
<line x1="335.50" y1="229.50" x2="335.50" y2="231.50" stroke="#222" stroke-width="0.9"/>
<text x="252.80" y="240.40" font-size="6.7" font-family="'Liberation Sans', Arial, sans-serif" fill="#222" stroke="#222" stroke-width="0.18" text-anchor="start" textLength="15.00" lengthAdjust="spacingAndGlyphs">EryA</text>
<text x="291.80" y="240.40" font-size="6.7" font-family="'Liberation Sans', Arial, sans-serif" fill="#222" stroke="#222" stroke-width="0.18" text-anchor="start" textLength="13.90" lengthAdjust="spacingAndGlyphs">EryB</text>
<text x="328.00" y="240.40" font-size="6.7" font-family="'Liberation Sans', Arial, sans-serif" fill="#222" stroke="#222" stroke-width="0.18" text-anchor="start" textLength="13.70" lengthAdjust="spacingAndGlyphs">EryC</text>
<text x="281.90" y="247.60" font-size="6.5" font-family="'Liberation Sans', Arial, sans-serif" fill="#222" stroke="#222" stroke-width="0.18" text-anchor="start" textLength="33.70" lengthAdjust="spacingAndGlyphs">Populations</text>
<text x="240.60" y="136.80" font-size="7.1" font-family="'Liberation Sans', Arial, sans-serif" fill="#222" stroke="#222" stroke-width="0.18" text-anchor="start" textLength="112.00" lengthAdjust="spacingAndGlyphs">EryA-C populations in bone marrow</text>
<text x="227.90" y="230.00" font-size="6.6" font-family="'Liberation Sans', Arial, sans-serif" fill="#222" stroke="#222" stroke-width="0.18" text-anchor="start" textLength="84.70" lengthAdjust="spacingAndGlyphs" transform="rotate(-90 227.90 230.00)">Proportion of Ter119+ cells</text>
<line x1="389.00" y1="147.70" x2="389.00" y2="231.00" stroke="#222" stroke-width="1.1"/>
<line x1="388.50" y1="230.50" x2="500.00" y2="230.50" stroke="#222" stroke-width="1.1"/>
<line x1="387.00" y1="230.50" x2="389.00" y2="230.50" stroke="#222" stroke-width="0.9"/>
<text x="387.00" y="232.59" font-size="5.8" font-family="'Liberation Sans', Arial, sans-serif" font-weight="bold" fill="#222" stroke="#222" stroke-width="0.18" text-anchor="end">0</text>
<line x1="387.00" y1="209.88" x2="389.00" y2="209.88" stroke="#222" stroke-width="0.9"/>
<text x="387.00" y="211.96" font-size="5.8" font-family="'Liberation Sans', Arial, sans-serif" font-weight="bold" fill="#222" stroke="#222" stroke-width="0.18" text-anchor="end">20</text>
<line x1="387.00" y1="189.25" x2="389.00" y2="189.25" stroke="#222" stroke-width="0.9"/>
<text x="387.00" y="191.34" font-size="5.8" font-family="'Liberation Sans', Arial, sans-serif" font-weight="bold" fill="#222" stroke="#222" stroke-width="0.18" text-anchor="end">40</text>
<line x1="387.00" y1="168.62" x2="389.00" y2="168.62" stroke="#222" stroke-width="0.9"/>
<text x="387.00" y="170.71" font-size="5.8" font-family="'Liberation Sans', Arial, sans-serif" font-weight="bold" fill="#222" stroke="#222" stroke-width="0.18" text-anchor="end">60</text>
<line x1="387.00" y1="148.00" x2="389.00" y2="148.00" stroke="#222" stroke-width="0.9"/>
<text x="387.00" y="150.09" font-size="5.8" font-family="'Liberation Sans', Arial, sans-serif" font-weight="bold" fill="#222" stroke="#222" stroke-width="0.18" text-anchor="end">80</text>
<rect x="394.30" y="214.80" width="12.60" height="15.70" fill="#000" stroke="none" stroke-width="1"/>
<line x1="400.60" y1="211.90" x2="400.60" y2="214.80" stroke="#000" stroke-width="1"/>
<line x1="396.82" y1="211.90" x2="404.38" y2="211.90" stroke="#000" stroke-width="1"/>
<rect x="409.60" y="208.80" width="12.30" height="21.70" fill="#fff" stroke="#222" stroke-width="0.95"/>
<line x1="415.75" y1="206.80" x2="415.75" y2="209.80" stroke="#222" stroke-width="1"/>
<line x1="411.76" y1="206.80" x2="419.74" y2="206.80" stroke="#222" stroke-width="1"/>
<line x1="411.76" y1="209.80" x2="419.74" y2="209.80" stroke="#222" stroke-width="1"/>
<text x="415.75" y="205.80" font-size="7.6" font-family="'Liberation Sans', Arial, sans-serif" fill="#222" stroke="#222" stroke-width="0.2" text-anchor="middle">*</text>
<rect x="432.30" y="210.30" width="12.40" height="20.20" fill="#000" stroke="none" stroke-width="1"/>
<line x1="438.50" y1="209.80" x2="438.50" y2="210.30" stroke="#000" stroke-width="1"/>
<line x1="434.78" y1="209.80" x2="442.22" y2="209.80" stroke="#000" stroke-width="1"/>
<rect x="447.50" y="203.80" width="12.30" height="26.70" fill="#fff" stroke="#222" stroke-width="0.95"/>
<line x1="453.65" y1="202.60" x2="453.65" y2="204.00" stroke="#222" stroke-width="1"/>
<line x1="449.66" y1="202.60" x2="457.64" y2="202.60" stroke="#222" stroke-width="1"/>
<line x1="449.66" y1="204.00" x2="457.64" y2="204.00" stroke="#222" stroke-width="1"/>
<text x="452.15" y="201.00" font-size="7.6" font-family="'Liberation Sans', Arial, sans-serif" fill="#222" stroke="#222" stroke-width="0.2" text-anchor="middle">*</text>
<text x="455.15" y="201.00" font-size="7.6" font-family="'Liberation Sans', Arial, sans-serif" fill="#222" stroke="#222" stroke-width="0.2" text-anchor="middle">*</text>
<rect x="469.10" y="167.40" width="13.70" height="63.10" fill="#000" stroke="none" stroke-width="1"/>
<line x1="475.95" y1="164.10" x2="475.95" y2="167.40" stroke="#000" stroke-width="1"/>
<line x1="471.84" y1="164.10" x2="480.06" y2="164.10" stroke="#000" stroke-width="1"/>
<rect x="485.00" y="183.20" width="12.00" height="47.30" fill="#fff" stroke="#222" stroke-width="0.95"/>
<line x1="491.00" y1="180.50" x2="491.00" y2="184.90" stroke="#222" stroke-width="1"/>
<line x1="487.10" y1="180.50" x2="494.90" y2="180.50" stroke="#222" stroke-width="1"/>
<line x1="487.10" y1="184.90" x2="494.90" y2="184.90" stroke="#222" stroke-width="1"/>
<text x="489.50" y="179.10" font-size="7.6" font-family="'Liberation Sans', Arial, sans-serif" fill="#222" stroke="#222" stroke-width="0.2" text-anchor="middle">*</text>
<text x="492.50" y="179.10" font-size="7.6" font-family="'Liberation Sans', Arial, sans-serif" fill="#222" stroke="#222" stroke-width="0.2" text-anchor="middle">*</text>
<line x1="408.00" y1="230.50" x2="408.00" y2="232.50" stroke="#222" stroke-width="0.9"/>
<line x1="445.80" y1="230.50" x2="445.80" y2="232.50" stroke="#222" stroke-width="0.9"/>
<line x1="483.60" y1="230.50" x2="483.60" y2="232.50" stroke="#222" stroke-width="0.9"/>
<text x="394.30" y="241.00" font-size="6.7" font-family="'Liberation Sans', Arial, sans-serif" fill="#222" stroke="#222" stroke-width="0.18" text-anchor="start" textLength="13.90" lengthAdjust="spacingAndGlyphs">EryA</text>
<text x="442.00" y="241.00" font-size="6.7" font-family="'Liberation Sans', Arial, sans-serif" fill="#222" stroke="#222" stroke-width="0.18" text-anchor="start" textLength="13.50" lengthAdjust="spacingAndGlyphs">EryB</text>
<text x="482.20" y="241.00" font-size="6.7" font-family="'Liberation Sans', Arial, sans-serif" fill="#222" stroke="#222" stroke-width="0.18" text-anchor="start" textLength="13.60" lengthAdjust="spacingAndGlyphs">EryC</text>
<text x="431.60" y="248.00" font-size="6.5" font-family="'Liberation Sans', Arial, sans-serif" fill="#222" stroke="#222" stroke-width="0.18" text-anchor="start" textLength="32.60" lengthAdjust="spacingAndGlyphs">Populations</text>
<text x="401.50" y="137.20" font-size="7.1" font-family="'Liberation Sans', Arial, sans-serif" fill="#222" stroke="#222" stroke-width="0.18" text-anchor="start" textLength="92.10" lengthAdjust="spacingAndGlyphs">EryA-C populations in spleen</text>
<text x="377.00" y="231.30" font-size="6.6" font-family="'Liberation Sans', Arial, sans-serif" fill="#222" stroke="#222" stroke-width="0.18" text-anchor="start" textLength="83.80" lengthAdjust="spacingAndGlyphs" transform="rotate(-90 377.00 231.30)">Proportion of Ter119+ cells</text>
<rect x="323.50" y="254.50" width="11.60" height="6.70" fill="#000" stroke="none" stroke-width="1"/>
<text x="340.80" y="260.70" font-size="8.6" font-family="'Liberation Sans', Arial, sans-serif" fill="#111" stroke="#111" stroke-width="0.3" text-anchor="start" textLength="27.40" lengthAdjust="spacingAndGlyphs">Disomic</text>
<rect x="374.70" y="255.00" width="10.60" height="5.70" fill="#fff" stroke="#111" stroke-width="1"/>
<text x="391.20" y="260.60" font-size="8.6" font-family="'Liberation Sans', Arial, sans-serif" fill="#111" stroke="#111" stroke-width="0.3" text-anchor="start" textLength="23.90" lengthAdjust="spacingAndGlyphs">Ts1Cje</text>
<line x1="37.10" y1="281.70" x2="37.10" y2="363.40" stroke="#222" stroke-width="1.1"/>
<line x1="36.60" y1="362.90" x2="77.00" y2="362.90" stroke="#222" stroke-width="1.1"/>
<line x1="35.10" y1="362.90" x2="37.10" y2="362.90" stroke="#222" stroke-width="0.9"/>
<text x="35.10" y="364.70" font-size="5.0" font-family="'Liberation Sans', Arial, sans-serif" font-weight="bold" fill="#222" stroke="#222" stroke-width="0.18" text-anchor="end">0</text>
<line x1="35.10" y1="342.67" x2="37.10" y2="342.67" stroke="#222" stroke-width="0.9"/>
<text x="35.10" y="344.47" font-size="5.0" font-family="'Liberation Sans', Arial, sans-serif" font-weight="bold" fill="#222" stroke="#222" stroke-width="0.18" text-anchor="end">20</text>
<line x1="35.10" y1="322.45" x2="37.10" y2="322.45" stroke="#222" stroke-width="0.9"/>
<text x="35.10" y="324.25" font-size="5.0" font-family="'Liberation Sans', Arial, sans-serif" font-weight="bold" fill="#222" stroke="#222" stroke-width="0.18" text-anchor="end">40</text>
<line x1="35.10" y1="302.23" x2="37.10" y2="302.23" stroke="#222" stroke-width="0.9"/>
<text x="35.10" y="304.03" font-size="5.0" font-family="'Liberation Sans', Arial, sans-serif" font-weight="bold" fill="#222" stroke="#222" stroke-width="0.18" text-anchor="end">60</text>
<line x1="35.10" y1="282.00" x2="37.10" y2="282.00" stroke="#222" stroke-width="0.9"/>
<text x="35.10" y="283.80" font-size="5.0" font-family="'Liberation Sans', Arial, sans-serif" font-weight="bold" fill="#222" stroke="#222" stroke-width="0.18" text-anchor="end">80</text>
<rect x="39.60" y="307.80" width="14.70" height="55.10" fill="#000" stroke="none" stroke-width="1"/>
<line x1="46.95" y1="305.40" x2="46.95" y2="307.80" stroke="#000" stroke-width="1"/>
<line x1="42.54" y1="305.40" x2="51.36" y2="305.40" stroke="#000" stroke-width="1"/>
<rect x="60.10" y="300.70" width="13.60" height="62.20" fill="#fff" stroke="#222" stroke-width="0.95"/>
<line x1="66.90" y1="298.20" x2="66.90" y2="302.20" stroke="#222" stroke-width="1"/>
<line x1="62.52" y1="298.20" x2="71.28" y2="298.20" stroke="#222" stroke-width="1"/>
<line x1="62.52" y1="302.20" x2="71.28" y2="302.20" stroke="#222" stroke-width="1"/>
<text x="66.90" y="297.30" font-size="7.6" font-family="'Liberation Sans', Arial, sans-serif" fill="#222" stroke="#222" stroke-width="0.2" text-anchor="middle">*</text>
<line x1="56.80" y1="362.90" x2="56.80" y2="364.90" stroke="#222" stroke-width="0.9"/>
<text x="32.40" y="373.20" font-size="6.7" font-family="'Liberation Sans', Arial, sans-serif" fill="#222" stroke="#222" stroke-width="0.18" text-anchor="start" textLength="23.80" lengthAdjust="spacingAndGlyphs">Disomic</text>
<text x="59.20" y="373.20" font-size="6.7" font-family="'Liberation Sans', Arial, sans-serif" fill="#222" stroke="#222" stroke-width="0.18" text-anchor="start" textLength="19.60" lengthAdjust="spacingAndGlyphs">Ts1Cje</text>
<text x="41.20" y="380.90" font-size="6.6" font-family="'Liberation Sans', Arial, sans-serif" fill="#222" stroke="#222" stroke-width="0.18" text-anchor="start" textLength="29.30" lengthAdjust="spacingAndGlyphs">Genotype</text>
<text x="24.40" y="263.90" font-size="6.6" font-family="'Liberation Sans', Arial, sans-serif" fill="#222" stroke="#222" stroke-width="0.18" text-anchor="start" textLength="61.60" lengthAdjust="spacingAndGlyphs">Proportion of Ter119+</text>
<text x="36.10" y="272.70" font-size="6.6" font-family="'Liberation Sans', Arial, sans-serif" fill="#222" stroke="#222" stroke-width="0.18" text-anchor="start" textLength="42.00" lengthAdjust="spacingAndGlyphs">cells in spleen</text>
<text x="26.20" y="355.70" font-size="6.7" font-family="'Liberation Sans', Arial, sans-serif" fill="#222" stroke="#222" stroke-width="0.18" text-anchor="start" textLength="65.90" lengthAdjust="spacingAndGlyphs" transform="rotate(-90 26.20 355.70)">Proportion of live cells</text>
<line x1="118.50" y1="281.20" x2="118.50" y2="365.10" stroke="#222" stroke-width="1.1"/>
<line x1="118.00" y1="364.60" x2="160.00" y2="364.60" stroke="#222" stroke-width="1.1"/>
<line x1="116.50" y1="364.60" x2="118.50" y2="364.60" stroke="#222" stroke-width="0.9"/>
<text x="116.50" y="366.40" font-size="5.0" font-family="'Liberation Sans', Arial, sans-serif" font-weight="bold" fill="#222" stroke="#222" stroke-width="0.18" text-anchor="end">0</text>
<line x1="116.50" y1="336.90" x2="118.50" y2="336.90" stroke="#222" stroke-width="0.9"/>
<text x="116.50" y="338.70" font-size="5.0" font-family="'Liberation Sans', Arial, sans-serif" font-weight="bold" fill="#222" stroke="#222" stroke-width="0.18" text-anchor="end">20</text>
<line x1="116.50" y1="309.20" x2="118.50" y2="309.20" stroke="#222" stroke-width="0.9"/>
<text x="116.50" y="311.00" font-size="5.0" font-family="'Liberation Sans', Arial, sans-serif" font-weight="bold" fill="#222" stroke="#222" stroke-width="0.18" text-anchor="end">40</text>
<line x1="116.50" y1="281.50" x2="118.50" y2="281.50" stroke="#222" stroke-width="0.9"/>
<text x="116.50" y="283.30" font-size="5.0" font-family="'Liberation Sans', Arial, sans-serif" font-weight="bold" fill="#222" stroke="#222" stroke-width="0.18" text-anchor="end">60</text>
<rect x="121.30" y="300.20" width="14.20" height="64.40" fill="#000" stroke="none" stroke-width="1"/>
<line x1="128.40" y1="296.60" x2="128.40" y2="300.20" stroke="#000" stroke-width="1"/>
<line x1="124.14" y1="296.60" x2="132.66" y2="296.60" stroke="#000" stroke-width="1"/>
<rect x="142.50" y="315.80" width="13.70" height="48.80" fill="#fff" stroke="#222" stroke-width="0.95"/>
<line x1="149.35" y1="314.80" x2="149.35" y2="315.80" stroke="#222" stroke-width="1"/>
<line x1="144.94" y1="314.80" x2="153.76" y2="314.80" stroke="#222" stroke-width="1"/>
<line x1="144.94" y1="315.80" x2="153.76" y2="315.80" stroke="#222" stroke-width="1"/>
<text x="149.35" y="314.10" font-size="7.6" font-family="'Liberation Sans', Arial, sans-serif" fill="#222" stroke="#222" stroke-width="0.2" text-anchor="middle">*</text>
<line x1="138.70" y1="364.60" x2="138.70" y2="366.60" stroke="#222" stroke-width="0.9"/>
<text x="116.90" y="374.90" font-size="6.7" font-family="'Liberation Sans', Arial, sans-serif" fill="#222" stroke="#222" stroke-width="0.18" text-anchor="start" textLength="23.00" lengthAdjust="spacingAndGlyphs">Disomic</text>
<text x="142.70" y="374.90" font-size="6.7" font-family="'Liberation Sans', Arial, sans-serif" fill="#222" stroke="#222" stroke-width="0.18" text-anchor="start" textLength="19.00" lengthAdjust="spacingAndGlyphs">Ts1Cje</text>
<text x="124.50" y="382.40" font-size="6.6" font-family="'Liberation Sans', Arial, sans-serif" fill="#222" stroke="#222" stroke-width="0.18" text-anchor="start" textLength="29.10" lengthAdjust="spacingAndGlyphs">Genotype</text>
<text x="104.80" y="263.90" font-size="6.6" font-family="'Liberation Sans', Arial, sans-serif" fill="#222" stroke="#222" stroke-width="0.18" text-anchor="start" textLength="61.50" lengthAdjust="spacingAndGlyphs">Proportion of Ter119+</text>
<text x="107.10" y="272.80" font-size="6.6" font-family="'Liberation Sans', Arial, sans-serif" fill="#222" stroke="#222" stroke-width="0.18" text-anchor="start" textLength="60.20" lengthAdjust="spacingAndGlyphs">cells in bone marrow</text>
<text x="106.80" y="356.50" font-size="6.7" font-family="'Liberation Sans', Arial, sans-serif" fill="#222" stroke="#222" stroke-width="0.18" text-anchor="start" textLength="66.50" lengthAdjust="spacingAndGlyphs" transform="rotate(-90 106.80 356.50)">Proportion of live cells</text>
</svg></body></html>
